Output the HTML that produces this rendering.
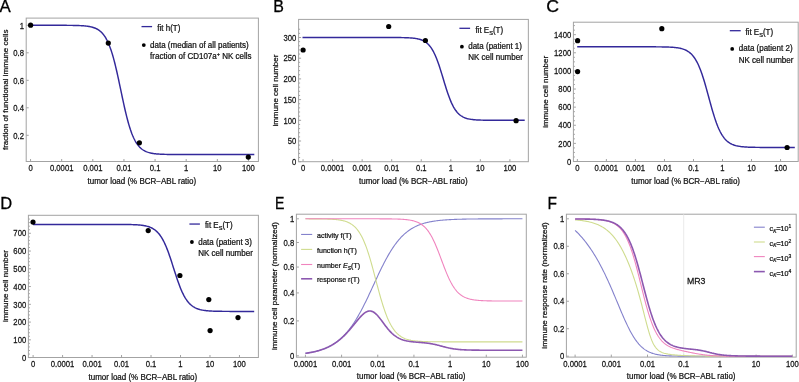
<!DOCTYPE html>
<html><head><meta charset="utf-8"><style>
html,body{margin:0;padding:0;background:#fff;}
svg{display:block;will-change:transform;font-family:"Liberation Sans",sans-serif;}
</style></head><body>
<svg width="799" height="382" viewBox="0 0 799 382">
<rect width="799" height="382" fill="#fff"/>
<rect x="26.2" y="18.1" width="232.2" height="143.4" fill="none" stroke="#a3a3a3" stroke-width="1"/>
<line x1="30.55" y1="161.5" x2="30.55" y2="159" stroke="#a3a3a3" stroke-width="1"/>
<text transform="translate(30.55,171.1) scale(0.8696,1)" font-size="8.85" text-anchor="middle" fill="#141414" stroke="#141414" stroke-width="0.25">0</text>
<line x1="61.68" y1="161.5" x2="61.68" y2="159" stroke="#a3a3a3" stroke-width="1"/>
<text transform="translate(61.68,171.1) scale(0.8696,1)" font-size="8.85" text-anchor="middle" fill="#141414" stroke="#141414" stroke-width="0.25">0.0001</text>
<line x1="92.81" y1="161.5" x2="92.81" y2="159" stroke="#a3a3a3" stroke-width="1"/>
<text transform="translate(92.81,171.1) scale(0.8696,1)" font-size="8.85" text-anchor="middle" fill="#141414" stroke="#141414" stroke-width="0.25">0.001</text>
<line x1="123.94" y1="161.5" x2="123.94" y2="159" stroke="#a3a3a3" stroke-width="1"/>
<text transform="translate(123.94,171.1) scale(0.8696,1)" font-size="8.85" text-anchor="middle" fill="#141414" stroke="#141414" stroke-width="0.25">0.01</text>
<line x1="155.07" y1="161.5" x2="155.07" y2="159" stroke="#a3a3a3" stroke-width="1"/>
<text transform="translate(155.07,171.1) scale(0.8696,1)" font-size="8.85" text-anchor="middle" fill="#141414" stroke="#141414" stroke-width="0.25">0.1</text>
<line x1="186.2" y1="161.5" x2="186.2" y2="159" stroke="#a3a3a3" stroke-width="1"/>
<text transform="translate(186.2,171.1) scale(0.8696,1)" font-size="8.85" text-anchor="middle" fill="#141414" stroke="#141414" stroke-width="0.25">1</text>
<line x1="217.33" y1="161.5" x2="217.33" y2="159" stroke="#a3a3a3" stroke-width="1"/>
<text transform="translate(217.33,171.1) scale(0.8696,1)" font-size="8.85" text-anchor="middle" fill="#141414" stroke="#141414" stroke-width="0.25">10</text>
<line x1="248.46" y1="161.5" x2="248.46" y2="159" stroke="#a3a3a3" stroke-width="1"/>
<text transform="translate(248.46,171.1) scale(0.8696,1)" font-size="8.85" text-anchor="middle" fill="#141414" stroke="#141414" stroke-width="0.25">100</text>
<line x1="26.2" y1="25.3" x2="28.7" y2="25.3" stroke="#a3a3a3" stroke-width="1"/>
<text transform="translate(24,28.5) scale(0.8696,1)" font-size="8.85" text-anchor="end" fill="#141414" stroke="#141414" stroke-width="0.25">1</text>
<line x1="26.2" y1="52.8" x2="28.7" y2="52.8" stroke="#a3a3a3" stroke-width="1"/>
<text transform="translate(24,56) scale(0.8696,1)" font-size="8.85" text-anchor="end" fill="#141414" stroke="#141414" stroke-width="0.25">0.8</text>
<line x1="26.2" y1="80.3" x2="28.7" y2="80.3" stroke="#a3a3a3" stroke-width="1"/>
<text transform="translate(24,83.5) scale(0.8696,1)" font-size="8.85" text-anchor="end" fill="#141414" stroke="#141414" stroke-width="0.25">0.6</text>
<line x1="26.2" y1="107.8" x2="28.7" y2="107.8" stroke="#a3a3a3" stroke-width="1"/>
<text transform="translate(24,111) scale(0.8696,1)" font-size="8.85" text-anchor="end" fill="#141414" stroke="#141414" stroke-width="0.25">0.4</text>
<line x1="26.2" y1="135.3" x2="28.7" y2="135.3" stroke="#a3a3a3" stroke-width="1"/>
<text transform="translate(24,138.5) scale(0.8696,1)" font-size="8.85" text-anchor="end" fill="#141414" stroke="#141414" stroke-width="0.25">0.2</text>
<text transform="translate(87.5,183.5) scale(0.9709,1)" font-size="8.24" text-anchor="start" fill="#141414" stroke="#141414" stroke-width="0.25">tumor load (% BCR−ABL ratio)</text>
<text transform="translate(8.2,89.8) rotate(-90)" font-size="8" text-anchor="middle" fill="#141414" stroke="#141414" stroke-width="0.25">fraction of functional immune cells</text>
<text transform="translate(-0.5,11.6) scale(0.98,1)" font-size="17.2" fill="#000" stroke="#000" stroke-width="0.3">A</text>
<path d="M30.55,25.3 L31.3,25.3 L32.04,25.3 L32.79,25.3 L33.53,25.3 L34.28,25.3 L35.02,25.3 L35.77,25.3 L36.52,25.3 L37.26,25.3 L38.01,25.3 L38.75,25.3 L39.5,25.3 L40.25,25.3 L40.99,25.3 L41.74,25.3 L42.48,25.3 L43.23,25.3 L43.97,25.3 L44.72,25.3 L45.47,25.3 L46.21,25.3 L46.96,25.3 L47.7,25.3 L48.45,25.3 L49.2,25.3 L49.94,25.3 L50.69,25.3 L51.43,25.3 L52.18,25.31 L52.93,25.31 L53.67,25.31 L54.42,25.31 L55.16,25.31 L55.91,25.31 L56.65,25.31 L57.4,25.31 L58.15,25.31 L58.89,25.31 L59.64,25.32 L60.38,25.32 L61.13,25.32 L61.87,25.32 L62.62,25.32 L63.37,25.33 L64.11,25.33 L64.86,25.33 L65.6,25.34 L66.35,25.34 L67.1,25.35 L67.84,25.35 L68.59,25.36 L69.33,25.36 L70.08,25.37 L70.83,25.38 L71.57,25.39 L72.32,25.4 L73.06,25.41 L73.81,25.42 L74.55,25.44 L75.3,25.46 L76.05,25.47 L76.79,25.49 L77.54,25.52 L78.28,25.54 L79.03,25.57 L79.77,25.6 L80.52,25.64 L81.27,25.67 L82.01,25.72 L82.76,25.77 L83.5,25.82 L84.25,25.88 L85,25.95 L85.74,26.02 L86.49,26.11 L87.23,26.2 L87.98,26.31 L88.72,26.42 L89.47,26.55 L90.22,26.7 L90.96,26.86 L91.71,27.04 L92.45,27.24 L93.2,27.46 L93.95,27.7 L94.69,27.98 L95.44,28.28 L96.18,28.62 L96.93,29 L97.67,29.42 L98.42,29.88 L99.17,30.39 L99.91,30.96 L100.66,31.59 L101.4,32.29 L102.15,33.05 L102.9,33.9 L103.64,34.82 L104.39,35.84 L105.13,36.96 L105.88,38.19 L106.62,39.53 L107.37,40.98 L108.12,42.57 L108.86,44.29 L109.61,46.15 L110.35,48.15 L111.1,50.3 L111.85,52.6 L112.59,55.05 L113.34,57.65 L114.08,60.4 L114.83,63.29 L115.58,66.32 L116.32,69.47 L117.07,72.73 L117.81,76.09 L118.56,79.52 L119.3,83.03 L120.05,86.57 L120.8,90.13 L121.54,93.69 L122.29,97.23 L123.03,100.72 L123.78,104.15 L124.52,107.5 L125.27,110.75 L126.02,113.89 L126.76,116.9 L127.51,119.77 L128.25,122.5 L129,125.09 L129.75,127.52 L130.49,129.81 L131.24,131.94 L131.98,133.92 L132.73,135.77 L133.47,137.47 L134.22,139.04 L134.97,140.48 L135.71,141.81 L136.46,143.02 L137.2,144.13 L137.95,145.14 L138.7,146.06 L139.44,146.89 L140.19,147.65 L140.93,148.33 L141.68,148.96 L142.42,149.52 L143.17,150.02 L143.92,150.48 L144.66,150.9 L145.41,151.27 L146.15,151.6 L146.9,151.9 L147.65,152.18 L148.39,152.42 L149.14,152.64 L149.88,152.84 L150.63,153.01 L151.38,153.17 L152.12,153.31 L152.87,153.44 L153.61,153.56 L154.36,153.66 L155.1,153.75 L155.85,153.84 L156.6,153.91 L157.34,153.98 L158.09,154.04 L158.83,154.09 L159.58,154.14 L160.32,154.18 L161.07,154.22 L161.82,154.25 L162.56,154.28 L163.31,154.31 L164.05,154.34 L164.8,154.36 L165.55,154.38 L166.29,154.4 L167.04,154.41 L167.78,154.43 L168.53,154.44 L169.28,154.45 L170.02,154.46 L170.77,154.47 L171.51,154.48 L172.26,154.49 L173,154.49 L173.75,154.5 L174.5,154.5 L175.24,154.51 L175.99,154.51 L176.73,154.52 L177.48,154.52 L178.23,154.52 L178.97,154.53 L179.72,154.53 L180.46,154.53 L181.21,154.53 L181.95,154.53 L182.7,154.54 L183.45,154.54 L184.19,154.54 L184.94,154.54 L185.68,154.54 L186.43,154.54 L187.18,154.54 L187.92,154.54 L188.67,154.54 L189.41,154.54 L190.16,154.55 L190.9,154.55 L191.65,154.55 L192.4,154.55 L193.14,154.55 L193.89,154.55 L194.63,154.55 L195.38,154.55 L196.12,154.55 L196.87,154.55 L197.62,154.55 L198.36,154.55 L199.11,154.55 L199.85,154.55 L200.6,154.55 L201.35,154.55 L202.09,154.55 L202.84,154.55 L203.58,154.55 L204.33,154.55 L205.08,154.55 L205.82,154.55 L206.57,154.55 L207.31,154.55 L208.06,154.55 L208.8,154.55 L209.55,154.55 L210.3,154.55 L211.04,154.55 L211.79,154.55 L212.53,154.55 L213.28,154.55 L214.03,154.55 L214.77,154.55 L215.52,154.55 L216.26,154.55 L217.01,154.55 L217.75,154.55 L218.5,154.55 L219.25,154.55 L219.99,154.55 L220.74,154.55 L221.48,154.55 L222.23,154.55 L222.97,154.55 L223.72,154.55 L224.47,154.55 L225.21,154.55 L225.96,154.55 L226.7,154.55 L227.45,154.55 L228.2,154.55 L228.94,154.55 L229.69,154.55 L230.43,154.55 L231.18,154.55 L231.93,154.55 L232.67,154.55 L233.42,154.55 L234.16,154.55 L234.91,154.55 L235.65,154.55 L236.4,154.55 L237.15,154.55 L237.89,154.55 L238.64,154.55 L239.38,154.55 L240.13,154.55 L240.88,154.55 L241.62,154.55 L242.37,154.55 L243.11,154.55 L243.86,154.55 L244.6,154.55 L245.35,154.55 L246.1,154.55 L246.84,154.55 L247.59,154.55 L248.33,154.55 L249.08,154.55 L249.83,154.55 L250.57,154.55 L251.32,154.55 L252.06,154.55 L252.81,154.55 L253.55,154.55 L254.3,154.55" fill="none" stroke="#33299a" stroke-width="1.45" stroke-linejoin="round" stroke-linecap="butt"/>
<circle cx="30.6" cy="25.2" r="2.6" fill="#000"/>
<circle cx="108.3" cy="43.1" r="2.6" fill="#000"/>
<circle cx="139.4" cy="142.8" r="2.6" fill="#000"/>
<circle cx="248.3" cy="157.1" r="2.6" fill="#000"/>
<line x1="141.5" y1="26.6" x2="152.1" y2="26.6" stroke="#33299a" stroke-width="1.3"/>
<text transform="translate(157.3,30.7) scale(0.9709,1)" font-size="8.24" text-anchor="start" fill="#141414" stroke="#141414" stroke-width="0.25">fit h(T)</text>
<circle cx="143.8" cy="45.1" r="1.9" fill="#000"/>
<text transform="translate(150.1,47.7) scale(0.9709,1)" font-size="8.24" text-anchor="start" fill="#141414" stroke="#141414" stroke-width="0.25">data (median of all patients)</text>
<text transform="translate(150.1,58.5) scale(0.9709,1)" font-size="8.24" text-anchor="start" fill="#141414" stroke="#141414" stroke-width="0.25">fraction of CD107a<tspan dy="-3" font-size="70%">+</tspan><tspan dy="3"> NK cells</tspan></text>
<rect x="298.6" y="19.4" width="229.75" height="142.3" fill="none" stroke="#a3a3a3" stroke-width="1"/>
<line x1="303.05" y1="161.7" x2="303.05" y2="159.2" stroke="#a3a3a3" stroke-width="1"/>
<text transform="translate(303.05,171.1) scale(0.8696,1)" font-size="8.85" text-anchor="middle" fill="#141414" stroke="#141414" stroke-width="0.25">0</text>
<line x1="332.6" y1="161.7" x2="332.6" y2="159.2" stroke="#a3a3a3" stroke-width="1"/>
<text transform="translate(332.6,171.1) scale(0.8696,1)" font-size="8.85" text-anchor="middle" fill="#141414" stroke="#141414" stroke-width="0.25">0.0001</text>
<line x1="362.15" y1="161.7" x2="362.15" y2="159.2" stroke="#a3a3a3" stroke-width="1"/>
<text transform="translate(362.15,171.1) scale(0.8696,1)" font-size="8.85" text-anchor="middle" fill="#141414" stroke="#141414" stroke-width="0.25">0.001</text>
<line x1="391.7" y1="161.7" x2="391.7" y2="159.2" stroke="#a3a3a3" stroke-width="1"/>
<text transform="translate(391.7,171.1) scale(0.8696,1)" font-size="8.85" text-anchor="middle" fill="#141414" stroke="#141414" stroke-width="0.25">0.01</text>
<line x1="421.25" y1="161.7" x2="421.25" y2="159.2" stroke="#a3a3a3" stroke-width="1"/>
<text transform="translate(421.25,171.1) scale(0.8696,1)" font-size="8.85" text-anchor="middle" fill="#141414" stroke="#141414" stroke-width="0.25">0.1</text>
<line x1="450.8" y1="161.7" x2="450.8" y2="159.2" stroke="#a3a3a3" stroke-width="1"/>
<text transform="translate(450.8,171.1) scale(0.8696,1)" font-size="8.85" text-anchor="middle" fill="#141414" stroke="#141414" stroke-width="0.25">1</text>
<line x1="480.35" y1="161.7" x2="480.35" y2="159.2" stroke="#a3a3a3" stroke-width="1"/>
<text transform="translate(480.35,171.1) scale(0.8696,1)" font-size="8.85" text-anchor="middle" fill="#141414" stroke="#141414" stroke-width="0.25">10</text>
<line x1="509.9" y1="161.7" x2="509.9" y2="159.2" stroke="#a3a3a3" stroke-width="1"/>
<text transform="translate(509.9,171.1) scale(0.8696,1)" font-size="8.85" text-anchor="middle" fill="#141414" stroke="#141414" stroke-width="0.25">100</text>
<line x1="298.6" y1="161.7" x2="301.1" y2="161.7" stroke="#a3a3a3" stroke-width="1"/>
<text transform="translate(296.4,164.9) scale(0.8696,1)" font-size="8.85" text-anchor="end" fill="#141414" stroke="#141414" stroke-width="0.25">0</text>
<line x1="298.6" y1="141" x2="301.1" y2="141" stroke="#a3a3a3" stroke-width="1"/>
<text transform="translate(296.4,144.2) scale(0.8696,1)" font-size="8.85" text-anchor="end" fill="#141414" stroke="#141414" stroke-width="0.25">50</text>
<line x1="298.6" y1="120.3" x2="301.1" y2="120.3" stroke="#a3a3a3" stroke-width="1"/>
<text transform="translate(296.4,123.5) scale(0.8696,1)" font-size="8.85" text-anchor="end" fill="#141414" stroke="#141414" stroke-width="0.25">100</text>
<line x1="298.6" y1="99.6" x2="301.1" y2="99.6" stroke="#a3a3a3" stroke-width="1"/>
<text transform="translate(296.4,102.8) scale(0.8696,1)" font-size="8.85" text-anchor="end" fill="#141414" stroke="#141414" stroke-width="0.25">150</text>
<line x1="298.6" y1="78.9" x2="301.1" y2="78.9" stroke="#a3a3a3" stroke-width="1"/>
<text transform="translate(296.4,82.1) scale(0.8696,1)" font-size="8.85" text-anchor="end" fill="#141414" stroke="#141414" stroke-width="0.25">200</text>
<line x1="298.6" y1="58.2" x2="301.1" y2="58.2" stroke="#a3a3a3" stroke-width="1"/>
<text transform="translate(296.4,61.4) scale(0.8696,1)" font-size="8.85" text-anchor="end" fill="#141414" stroke="#141414" stroke-width="0.25">250</text>
<line x1="298.6" y1="37.5" x2="301.1" y2="37.5" stroke="#a3a3a3" stroke-width="1"/>
<text transform="translate(296.4,40.7) scale(0.8696,1)" font-size="8.85" text-anchor="end" fill="#141414" stroke="#141414" stroke-width="0.25">300</text>
<line x1="298.6" y1="157.56" x2="300.1" y2="157.56" stroke="#a3a3a3" stroke-width="1"/>
<line x1="298.6" y1="153.42" x2="300.1" y2="153.42" stroke="#a3a3a3" stroke-width="1"/>
<line x1="298.6" y1="149.28" x2="300.1" y2="149.28" stroke="#a3a3a3" stroke-width="1"/>
<line x1="298.6" y1="145.14" x2="300.1" y2="145.14" stroke="#a3a3a3" stroke-width="1"/>
<line x1="298.6" y1="136.86" x2="300.1" y2="136.86" stroke="#a3a3a3" stroke-width="1"/>
<line x1="298.6" y1="132.72" x2="300.1" y2="132.72" stroke="#a3a3a3" stroke-width="1"/>
<line x1="298.6" y1="128.58" x2="300.1" y2="128.58" stroke="#a3a3a3" stroke-width="1"/>
<line x1="298.6" y1="124.44" x2="300.1" y2="124.44" stroke="#a3a3a3" stroke-width="1"/>
<line x1="298.6" y1="116.16" x2="300.1" y2="116.16" stroke="#a3a3a3" stroke-width="1"/>
<line x1="298.6" y1="112.02" x2="300.1" y2="112.02" stroke="#a3a3a3" stroke-width="1"/>
<line x1="298.6" y1="107.88" x2="300.1" y2="107.88" stroke="#a3a3a3" stroke-width="1"/>
<line x1="298.6" y1="103.74" x2="300.1" y2="103.74" stroke="#a3a3a3" stroke-width="1"/>
<line x1="298.6" y1="95.46" x2="300.1" y2="95.46" stroke="#a3a3a3" stroke-width="1"/>
<line x1="298.6" y1="91.32" x2="300.1" y2="91.32" stroke="#a3a3a3" stroke-width="1"/>
<line x1="298.6" y1="87.18" x2="300.1" y2="87.18" stroke="#a3a3a3" stroke-width="1"/>
<line x1="298.6" y1="83.04" x2="300.1" y2="83.04" stroke="#a3a3a3" stroke-width="1"/>
<line x1="298.6" y1="74.76" x2="300.1" y2="74.76" stroke="#a3a3a3" stroke-width="1"/>
<line x1="298.6" y1="70.62" x2="300.1" y2="70.62" stroke="#a3a3a3" stroke-width="1"/>
<line x1="298.6" y1="66.48" x2="300.1" y2="66.48" stroke="#a3a3a3" stroke-width="1"/>
<line x1="298.6" y1="62.34" x2="300.1" y2="62.34" stroke="#a3a3a3" stroke-width="1"/>
<line x1="298.6" y1="54.06" x2="300.1" y2="54.06" stroke="#a3a3a3" stroke-width="1"/>
<line x1="298.6" y1="49.92" x2="300.1" y2="49.92" stroke="#a3a3a3" stroke-width="1"/>
<line x1="298.6" y1="45.78" x2="300.1" y2="45.78" stroke="#a3a3a3" stroke-width="1"/>
<line x1="298.6" y1="41.64" x2="300.1" y2="41.64" stroke="#a3a3a3" stroke-width="1"/>
<line x1="298.6" y1="33.36" x2="300.1" y2="33.36" stroke="#a3a3a3" stroke-width="1"/>
<line x1="298.6" y1="29.22" x2="300.1" y2="29.22" stroke="#a3a3a3" stroke-width="1"/>
<text transform="translate(359,183.5) scale(0.9709,1)" font-size="8.24" text-anchor="start" fill="#141414" stroke="#141414" stroke-width="0.25">tumor load (% BCR−ABL ratio)</text>
<text transform="translate(277.5,90.6) rotate(-90)" font-size="8" text-anchor="middle" fill="#141414" stroke="#141414" stroke-width="0.25">immune cell number</text>
<text transform="translate(273.2,11.7) scale(0.93,1)" font-size="17.2" fill="#000" stroke="#000" stroke-width="0.3">B</text>
<path d="M302.5,37.5 L303.24,37.5 L303.98,37.5 L304.72,37.5 L305.46,37.5 L306.2,37.5 L306.94,37.5 L307.68,37.5 L308.43,37.5 L309.17,37.5 L309.91,37.5 L310.65,37.5 L311.39,37.5 L312.13,37.5 L312.87,37.5 L313.61,37.5 L314.35,37.5 L315.09,37.5 L315.83,37.5 L316.57,37.5 L317.31,37.5 L318.05,37.5 L318.79,37.5 L319.54,37.5 L320.28,37.5 L321.02,37.5 L321.76,37.5 L322.5,37.5 L323.24,37.5 L323.98,37.5 L324.72,37.5 L325.46,37.5 L326.2,37.5 L326.94,37.5 L327.68,37.5 L328.42,37.5 L329.16,37.5 L329.9,37.5 L330.65,37.5 L331.39,37.5 L332.13,37.5 L332.87,37.5 L333.61,37.5 L334.35,37.5 L335.09,37.5 L335.83,37.5 L336.57,37.5 L337.31,37.5 L338.05,37.5 L338.79,37.5 L339.53,37.5 L340.27,37.5 L341.01,37.5 L341.76,37.5 L342.5,37.5 L343.24,37.5 L343.98,37.5 L344.72,37.5 L345.46,37.5 L346.2,37.5 L346.94,37.5 L347.68,37.5 L348.42,37.5 L349.16,37.5 L349.9,37.5 L350.64,37.5 L351.38,37.5 L352.12,37.5 L352.87,37.5 L353.61,37.5 L354.35,37.5 L355.09,37.5 L355.83,37.5 L356.57,37.5 L357.31,37.5 L358.05,37.5 L358.79,37.5 L359.53,37.5 L360.27,37.5 L361.01,37.5 L361.75,37.5 L362.49,37.5 L363.23,37.5 L363.98,37.5 L364.72,37.5 L365.46,37.5 L366.2,37.5 L366.94,37.5 L367.68,37.5 L368.42,37.5 L369.16,37.5 L369.9,37.5 L370.64,37.5 L371.38,37.5 L372.12,37.5 L372.86,37.5 L373.6,37.5 L374.34,37.5 L375.09,37.5 L375.83,37.5 L376.57,37.5 L377.31,37.5 L378.05,37.5 L378.79,37.5 L379.53,37.5 L380.27,37.5 L381.01,37.5 L381.75,37.5 L382.49,37.5 L383.23,37.51 L383.97,37.51 L384.71,37.51 L385.45,37.51 L386.2,37.51 L386.94,37.51 L387.68,37.51 L388.42,37.51 L389.16,37.51 L389.9,37.52 L390.64,37.52 L391.38,37.52 L392.12,37.52 L392.86,37.53 L393.6,37.53 L394.34,37.53 L395.08,37.54 L395.82,37.54 L396.56,37.55 L397.31,37.55 L398.05,37.56 L398.79,37.57 L399.53,37.57 L400.27,37.58 L401.01,37.59 L401.75,37.61 L402.49,37.62 L403.23,37.63 L403.97,37.65 L404.71,37.67 L405.45,37.69 L406.19,37.71 L406.93,37.74 L407.67,37.77 L408.42,37.81 L409.16,37.85 L409.9,37.89 L410.64,37.94 L411.38,37.99 L412.12,38.05 L412.86,38.12 L413.6,38.2 L414.34,38.29 L415.08,38.39 L415.82,38.5 L416.56,38.62 L417.3,38.76 L418.04,38.92 L418.78,39.1 L419.53,39.29 L420.27,39.51 L421.01,39.76 L421.75,40.04 L422.49,40.35 L423.23,40.69 L423.97,41.08 L424.71,41.51 L425.45,41.99 L426.19,42.52 L426.93,43.11 L427.67,43.76 L428.41,44.49 L429.15,45.29 L429.89,46.17 L430.64,47.13 L431.38,48.19 L432.12,49.35 L432.86,50.61 L433.6,51.97 L434.34,53.45 L435.08,55.03 L435.82,56.73 L436.56,58.55 L437.3,60.47 L438.04,62.49 L438.78,64.61 L439.52,66.82 L440.26,69.11 L441,71.46 L441.75,73.87 L442.49,76.31 L443.23,78.77 L443.97,81.22 L444.71,83.67 L445.45,86.08 L446.19,88.44 L446.93,90.73 L447.67,92.95 L448.41,95.08 L449.15,97.12 L449.89,99.05 L450.63,100.87 L451.37,102.59 L452.11,104.18 L452.86,105.67 L453.6,107.05 L454.34,108.32 L455.08,109.49 L455.82,110.56 L456.56,111.53 L457.3,112.42 L458.04,113.23 L458.78,113.96 L459.52,114.62 L460.26,115.22 L461,115.76 L461.74,116.24 L462.48,116.68 L463.22,117.07 L463.97,117.42 L464.71,117.73 L465.45,118.01 L466.19,118.26 L466.93,118.48 L467.67,118.68 L468.41,118.86 L469.15,119.02 L469.89,119.16 L470.63,119.29 L471.37,119.4 L472.11,119.5 L472.85,119.59 L473.59,119.67 L474.33,119.74 L475.08,119.8 L475.82,119.86 L476.56,119.91 L477.3,119.95 L478.04,119.99 L478.78,120.02 L479.52,120.05 L480.26,120.08 L481,120.11 L481.74,120.13 L482.48,120.15 L483.22,120.16 L483.96,120.18 L484.7,120.19 L485.44,120.21 L486.19,120.22 L486.93,120.23 L487.67,120.23 L488.41,120.24 L489.15,120.25 L489.89,120.25 L490.63,120.26 L491.37,120.26 L492.11,120.27 L492.85,120.27 L493.59,120.27 L494.33,120.28 L495.07,120.28 L495.81,120.28 L496.55,120.28 L497.3,120.29 L498.04,120.29 L498.78,120.29 L499.52,120.29 L500.26,120.29 L501,120.29 L501.74,120.29 L502.48,120.29 L503.22,120.29 L503.96,120.3 L504.7,120.3 L505.44,120.3 L506.18,120.3 L506.92,120.3 L507.66,120.3 L508.41,120.3 L509.15,120.3 L509.89,120.3 L510.63,120.3 L511.37,120.3 L512.11,120.3 L512.85,120.3 L513.59,120.3 L514.33,120.3 L515.07,120.3 L515.81,120.3 L516.55,120.3 L517.29,120.3 L518.03,120.3 L518.77,120.3 L519.52,120.3 L520.26,120.3 L521,120.3 L521.74,120.3 L522.48,120.3 L523.22,120.3 L523.96,120.3 L524.7,120.3" fill="none" stroke="#33299a" stroke-width="1.45" stroke-linejoin="round" stroke-linecap="butt"/>
<circle cx="303.1" cy="50" r="2.6" fill="#000"/>
<circle cx="388.7" cy="26.5" r="2.6" fill="#000"/>
<circle cx="425.4" cy="40.5" r="2.6" fill="#000"/>
<circle cx="516.1" cy="120.7" r="2.6" fill="#000"/>
<line x1="459.4" y1="28.3" x2="470.1" y2="28.3" stroke="#33299a" stroke-width="1.3"/>
<text transform="translate(475.4,32.5) scale(0.9709,1)" font-size="8.24" text-anchor="start" fill="#141414" stroke="#141414" stroke-width="0.25">fit E<tspan dy="2.2" font-size="70%">S</tspan><tspan dy="-2.2">(T)</tspan></text>
<circle cx="461.9" cy="46.7" r="1.9" fill="#000"/>
<text transform="translate(468.2,48.8) scale(0.9709,1)" font-size="8.24" text-anchor="start" fill="#141414" stroke="#141414" stroke-width="0.25">data (patient 1)</text>
<text transform="translate(468.2,60.1) scale(0.9709,1)" font-size="8.24" text-anchor="start" fill="#141414" stroke="#141414" stroke-width="0.25">NK cell number</text>
<rect x="573.4" y="22.2" width="224.8" height="139.3" fill="none" stroke="#a3a3a3" stroke-width="1"/>
<line x1="577.35" y1="161.5" x2="577.35" y2="159" stroke="#a3a3a3" stroke-width="1"/>
<text transform="translate(577.35,171.1) scale(0.8696,1)" font-size="8.85" text-anchor="middle" fill="#141414" stroke="#141414" stroke-width="0.25">0</text>
<line x1="606.38" y1="161.5" x2="606.38" y2="159" stroke="#a3a3a3" stroke-width="1"/>
<text transform="translate(606.38,171.1) scale(0.8696,1)" font-size="8.85" text-anchor="middle" fill="#141414" stroke="#141414" stroke-width="0.25">0.0001</text>
<line x1="635.41" y1="161.5" x2="635.41" y2="159" stroke="#a3a3a3" stroke-width="1"/>
<text transform="translate(635.41,171.1) scale(0.8696,1)" font-size="8.85" text-anchor="middle" fill="#141414" stroke="#141414" stroke-width="0.25">0.001</text>
<line x1="664.44" y1="161.5" x2="664.44" y2="159" stroke="#a3a3a3" stroke-width="1"/>
<text transform="translate(664.44,171.1) scale(0.8696,1)" font-size="8.85" text-anchor="middle" fill="#141414" stroke="#141414" stroke-width="0.25">0.01</text>
<line x1="693.47" y1="161.5" x2="693.47" y2="159" stroke="#a3a3a3" stroke-width="1"/>
<text transform="translate(693.47,171.1) scale(0.8696,1)" font-size="8.85" text-anchor="middle" fill="#141414" stroke="#141414" stroke-width="0.25">0.1</text>
<line x1="722.5" y1="161.5" x2="722.5" y2="159" stroke="#a3a3a3" stroke-width="1"/>
<text transform="translate(722.5,171.1) scale(0.8696,1)" font-size="8.85" text-anchor="middle" fill="#141414" stroke="#141414" stroke-width="0.25">1</text>
<line x1="751.53" y1="161.5" x2="751.53" y2="159" stroke="#a3a3a3" stroke-width="1"/>
<text transform="translate(751.53,171.1) scale(0.8696,1)" font-size="8.85" text-anchor="middle" fill="#141414" stroke="#141414" stroke-width="0.25">10</text>
<line x1="780.56" y1="161.5" x2="780.56" y2="159" stroke="#a3a3a3" stroke-width="1"/>
<text transform="translate(780.56,171.1) scale(0.8696,1)" font-size="8.85" text-anchor="middle" fill="#141414" stroke="#141414" stroke-width="0.25">100</text>
<line x1="573.4" y1="161.5" x2="575.9" y2="161.5" stroke="#a3a3a3" stroke-width="1"/>
<text transform="translate(571.2,164.7) scale(0.8696,1)" font-size="8.85" text-anchor="end" fill="#141414" stroke="#141414" stroke-width="0.25">0</text>
<line x1="573.4" y1="143.38" x2="575.9" y2="143.38" stroke="#a3a3a3" stroke-width="1"/>
<text transform="translate(571.2,146.58) scale(0.8696,1)" font-size="8.85" text-anchor="end" fill="#141414" stroke="#141414" stroke-width="0.25">200</text>
<line x1="573.4" y1="125.26" x2="575.9" y2="125.26" stroke="#a3a3a3" stroke-width="1"/>
<text transform="translate(571.2,128.46) scale(0.8696,1)" font-size="8.85" text-anchor="end" fill="#141414" stroke="#141414" stroke-width="0.25">400</text>
<line x1="573.4" y1="107.14" x2="575.9" y2="107.14" stroke="#a3a3a3" stroke-width="1"/>
<text transform="translate(571.2,110.34) scale(0.8696,1)" font-size="8.85" text-anchor="end" fill="#141414" stroke="#141414" stroke-width="0.25">600</text>
<line x1="573.4" y1="89.02" x2="575.9" y2="89.02" stroke="#a3a3a3" stroke-width="1"/>
<text transform="translate(571.2,92.22) scale(0.8696,1)" font-size="8.85" text-anchor="end" fill="#141414" stroke="#141414" stroke-width="0.25">800</text>
<line x1="573.4" y1="70.9" x2="575.9" y2="70.9" stroke="#a3a3a3" stroke-width="1"/>
<text transform="translate(571.2,74.1) scale(0.8696,1)" font-size="8.85" text-anchor="end" fill="#141414" stroke="#141414" stroke-width="0.25">1000</text>
<line x1="573.4" y1="52.78" x2="575.9" y2="52.78" stroke="#a3a3a3" stroke-width="1"/>
<text transform="translate(571.2,55.98) scale(0.8696,1)" font-size="8.85" text-anchor="end" fill="#141414" stroke="#141414" stroke-width="0.25">1200</text>
<line x1="573.4" y1="34.66" x2="575.9" y2="34.66" stroke="#a3a3a3" stroke-width="1"/>
<text transform="translate(571.2,37.86) scale(0.8696,1)" font-size="8.85" text-anchor="end" fill="#141414" stroke="#141414" stroke-width="0.25">1400</text>
<line x1="573.4" y1="156.97" x2="574.9" y2="156.97" stroke="#a3a3a3" stroke-width="1"/>
<line x1="573.4" y1="152.44" x2="574.9" y2="152.44" stroke="#a3a3a3" stroke-width="1"/>
<line x1="573.4" y1="147.91" x2="574.9" y2="147.91" stroke="#a3a3a3" stroke-width="1"/>
<line x1="573.4" y1="138.85" x2="574.9" y2="138.85" stroke="#a3a3a3" stroke-width="1"/>
<line x1="573.4" y1="134.32" x2="574.9" y2="134.32" stroke="#a3a3a3" stroke-width="1"/>
<line x1="573.4" y1="129.79" x2="574.9" y2="129.79" stroke="#a3a3a3" stroke-width="1"/>
<line x1="573.4" y1="120.73" x2="574.9" y2="120.73" stroke="#a3a3a3" stroke-width="1"/>
<line x1="573.4" y1="116.2" x2="574.9" y2="116.2" stroke="#a3a3a3" stroke-width="1"/>
<line x1="573.4" y1="111.67" x2="574.9" y2="111.67" stroke="#a3a3a3" stroke-width="1"/>
<line x1="573.4" y1="102.61" x2="574.9" y2="102.61" stroke="#a3a3a3" stroke-width="1"/>
<line x1="573.4" y1="98.08" x2="574.9" y2="98.08" stroke="#a3a3a3" stroke-width="1"/>
<line x1="573.4" y1="93.55" x2="574.9" y2="93.55" stroke="#a3a3a3" stroke-width="1"/>
<line x1="573.4" y1="84.49" x2="574.9" y2="84.49" stroke="#a3a3a3" stroke-width="1"/>
<line x1="573.4" y1="79.96" x2="574.9" y2="79.96" stroke="#a3a3a3" stroke-width="1"/>
<line x1="573.4" y1="75.43" x2="574.9" y2="75.43" stroke="#a3a3a3" stroke-width="1"/>
<line x1="573.4" y1="66.37" x2="574.9" y2="66.37" stroke="#a3a3a3" stroke-width="1"/>
<line x1="573.4" y1="61.84" x2="574.9" y2="61.84" stroke="#a3a3a3" stroke-width="1"/>
<line x1="573.4" y1="57.31" x2="574.9" y2="57.31" stroke="#a3a3a3" stroke-width="1"/>
<line x1="573.4" y1="48.25" x2="574.9" y2="48.25" stroke="#a3a3a3" stroke-width="1"/>
<line x1="573.4" y1="43.72" x2="574.9" y2="43.72" stroke="#a3a3a3" stroke-width="1"/>
<line x1="573.4" y1="39.19" x2="574.9" y2="39.19" stroke="#a3a3a3" stroke-width="1"/>
<line x1="573.4" y1="30.13" x2="574.9" y2="30.13" stroke="#a3a3a3" stroke-width="1"/>
<line x1="573.4" y1="25.6" x2="574.9" y2="25.6" stroke="#a3a3a3" stroke-width="1"/>
<text transform="translate(631.3,183.5) scale(0.9709,1)" font-size="8.24" text-anchor="start" fill="#141414" stroke="#141414" stroke-width="0.25">tumor load (% BCR−ABL ratio)</text>
<text transform="translate(547.7,91.85) rotate(-90)" font-size="8" text-anchor="middle" fill="#141414" stroke="#141414" stroke-width="0.25">immune cell number</text>
<text transform="translate(546.2,12) scale(1.03,1)" font-size="17.2" fill="#000" stroke="#000" stroke-width="0.3">C</text>
<path d="M577.2,46.8 L577.93,46.8 L578.65,46.8 L579.38,46.8 L580.1,46.8 L580.83,46.8 L581.55,46.8 L582.28,46.8 L583,46.8 L583.73,46.8 L584.45,46.8 L585.18,46.8 L585.9,46.8 L586.63,46.8 L587.35,46.8 L588.08,46.8 L588.81,46.8 L589.53,46.8 L590.26,46.8 L590.98,46.8 L591.71,46.8 L592.43,46.8 L593.16,46.8 L593.88,46.8 L594.61,46.8 L595.33,46.8 L596.06,46.8 L596.78,46.8 L597.51,46.8 L598.23,46.8 L598.96,46.8 L599.69,46.8 L600.41,46.8 L601.14,46.8 L601.86,46.8 L602.59,46.8 L603.31,46.8 L604.04,46.8 L604.76,46.8 L605.49,46.8 L606.21,46.8 L606.94,46.8 L607.66,46.8 L608.39,46.8 L609.11,46.8 L609.84,46.8 L610.57,46.8 L611.29,46.8 L612.02,46.8 L612.74,46.8 L613.47,46.8 L614.19,46.8 L614.92,46.8 L615.64,46.8 L616.37,46.8 L617.09,46.8 L617.82,46.8 L618.54,46.8 L619.27,46.8 L619.99,46.8 L620.72,46.8 L621.45,46.8 L622.17,46.8 L622.9,46.8 L623.62,46.8 L624.35,46.8 L625.07,46.8 L625.8,46.8 L626.52,46.8 L627.25,46.8 L627.97,46.8 L628.7,46.8 L629.42,46.8 L630.15,46.8 L630.87,46.8 L631.6,46.8 L632.33,46.8 L633.05,46.8 L633.78,46.8 L634.5,46.8 L635.23,46.8 L635.95,46.8 L636.68,46.8 L637.4,46.8 L638.13,46.8 L638.85,46.8 L639.58,46.8 L640.3,46.8 L641.03,46.81 L641.75,46.81 L642.48,46.81 L643.21,46.81 L643.93,46.81 L644.66,46.81 L645.38,46.81 L646.11,46.81 L646.83,46.81 L647.56,46.81 L648.28,46.81 L649.01,46.82 L649.73,46.82 L650.46,46.82 L651.18,46.82 L651.91,46.82 L652.63,46.83 L653.36,46.83 L654.09,46.83 L654.81,46.84 L655.54,46.84 L656.26,46.85 L656.99,46.85 L657.71,46.86 L658.44,46.86 L659.16,46.87 L659.89,46.88 L660.61,46.89 L661.34,46.9 L662.06,46.91 L662.79,46.92 L663.51,46.93 L664.24,46.95 L664.97,46.96 L665.69,46.98 L666.42,47 L667.14,47.03 L667.87,47.05 L668.59,47.08 L669.32,47.11 L670.04,47.14 L670.77,47.18 L671.49,47.23 L672.22,47.27 L672.94,47.33 L673.67,47.39 L674.39,47.45 L675.12,47.52 L675.85,47.6 L676.57,47.69 L677.3,47.79 L678.02,47.9 L678.75,48.02 L679.47,48.16 L680.2,48.31 L680.92,48.48 L681.65,48.66 L682.37,48.87 L683.1,49.09 L683.82,49.35 L684.55,49.62 L685.27,49.93 L686,50.27 L686.73,50.64 L687.45,51.06 L688.18,51.51 L688.9,52.02 L689.63,52.57 L690.35,53.17 L691.08,53.84 L691.8,54.57 L692.53,55.37 L693.25,56.24 L693.98,57.19 L694.7,58.22 L695.43,59.35 L696.15,60.56 L696.88,61.88 L697.61,63.29 L698.33,64.81 L699.06,66.44 L699.78,68.18 L700.51,70.03 L701.23,71.98 L701.96,74.05 L702.68,76.21 L703.41,78.48 L704.13,80.83 L704.86,83.27 L705.58,85.78 L706.31,88.35 L707.03,90.97 L707.76,93.62 L708.49,96.29 L709.21,98.97 L709.94,101.64 L710.66,104.28 L711.39,106.88 L712.11,109.43 L712.84,111.91 L713.56,114.32 L714.29,116.64 L715.01,118.87 L715.74,121 L716.46,123.02 L717.19,124.93 L717.91,126.74 L718.64,128.44 L719.37,130.02 L720.09,131.51 L720.82,132.88 L721.54,134.16 L722.27,135.34 L722.99,136.43 L723.72,137.43 L724.44,138.35 L725.17,139.2 L725.89,139.97 L726.62,140.67 L727.34,141.32 L728.07,141.9 L728.79,142.44 L729.52,142.92 L730.25,143.36 L730.97,143.76 L731.7,144.12 L732.42,144.45 L733.15,144.74 L733.87,145.01 L734.6,145.25 L735.32,145.47 L736.05,145.67 L736.77,145.84 L737.5,146 L738.22,146.15 L738.95,146.28 L739.67,146.4 L740.4,146.5 L741.13,146.6 L741.85,146.68 L742.58,146.76 L743.3,146.83 L744.03,146.89 L744.75,146.95 L745.48,147 L746.2,147.05 L746.93,147.09 L747.65,147.13 L748.38,147.16 L749.1,147.19 L749.83,147.22 L750.55,147.24 L751.28,147.26 L752.01,147.28 L752.73,147.3 L753.46,147.32 L754.18,147.33 L754.91,147.34 L755.63,147.35 L756.36,147.36 L757.08,147.37 L757.81,147.38 L758.53,147.39 L759.26,147.4 L759.98,147.4 L760.71,147.41 L761.43,147.41 L762.16,147.42 L762.89,147.42 L763.61,147.43 L764.34,147.43 L765.06,147.43 L765.79,147.43 L766.51,147.44 L767.24,147.44 L767.96,147.44 L768.69,147.44 L769.41,147.44 L770.14,147.44 L770.86,147.45 L771.59,147.45 L772.31,147.45 L773.04,147.45 L773.77,147.45 L774.49,147.45 L775.22,147.45 L775.94,147.45 L776.67,147.45 L777.39,147.45 L778.12,147.45 L778.84,147.45 L779.57,147.45 L780.29,147.45 L781.02,147.45 L781.74,147.45 L782.47,147.45 L783.19,147.46 L783.92,147.46 L784.65,147.46 L785.37,147.46 L786.1,147.46 L786.82,147.46 L787.55,147.46 L788.27,147.46 L789,147.46 L789.72,147.46 L790.45,147.46 L791.17,147.46 L791.9,147.46 L792.62,147.46 L793.35,147.46 L794.07,147.46 L794.8,147.46" fill="none" stroke="#33299a" stroke-width="1.45" stroke-linejoin="round" stroke-linecap="butt"/>
<circle cx="577.6" cy="40.7" r="2.6" fill="#000"/>
<circle cx="577.6" cy="71.6" r="2.6" fill="#000"/>
<circle cx="661.8" cy="28.7" r="2.6" fill="#000"/>
<circle cx="787.1" cy="147.5" r="2.6" fill="#000"/>
<line x1="729.8" y1="30.7" x2="740.7" y2="30.7" stroke="#33299a" stroke-width="1.3"/>
<text transform="translate(745.4,34.8) scale(0.9709,1)" font-size="8.24" text-anchor="start" fill="#141414" stroke="#141414" stroke-width="0.25">fit E<tspan dy="2.2" font-size="70%">S</tspan><tspan dy="-2.2">(T)</tspan></text>
<circle cx="732.2" cy="48.9" r="1.9" fill="#000"/>
<text transform="translate(738.8,51.2) scale(0.9709,1)" font-size="8.24" text-anchor="start" fill="#141414" stroke="#141414" stroke-width="0.25">data (patient 2)</text>
<text transform="translate(738.8,62.5) scale(0.9709,1)" font-size="8.24" text-anchor="start" fill="#141414" stroke="#141414" stroke-width="0.25">NK cell number</text>
<rect x="28.4" y="215.3" width="230" height="142.2" fill="none" stroke="#a3a3a3" stroke-width="1"/>
<line x1="33.1" y1="357.5" x2="33.1" y2="355" stroke="#a3a3a3" stroke-width="1"/>
<text transform="translate(33.1,366.8) scale(0.8696,1)" font-size="8.85" text-anchor="middle" fill="#141414" stroke="#141414" stroke-width="0.25">0</text>
<line x1="62.58" y1="357.5" x2="62.58" y2="355" stroke="#a3a3a3" stroke-width="1"/>
<text transform="translate(62.58,366.8) scale(0.8696,1)" font-size="8.85" text-anchor="middle" fill="#141414" stroke="#141414" stroke-width="0.25">0.0001</text>
<line x1="92.06" y1="357.5" x2="92.06" y2="355" stroke="#a3a3a3" stroke-width="1"/>
<text transform="translate(92.06,366.8) scale(0.8696,1)" font-size="8.85" text-anchor="middle" fill="#141414" stroke="#141414" stroke-width="0.25">0.001</text>
<line x1="121.54" y1="357.5" x2="121.54" y2="355" stroke="#a3a3a3" stroke-width="1"/>
<text transform="translate(121.54,366.8) scale(0.8696,1)" font-size="8.85" text-anchor="middle" fill="#141414" stroke="#141414" stroke-width="0.25">0.01</text>
<line x1="151.02" y1="357.5" x2="151.02" y2="355" stroke="#a3a3a3" stroke-width="1"/>
<text transform="translate(151.02,366.8) scale(0.8696,1)" font-size="8.85" text-anchor="middle" fill="#141414" stroke="#141414" stroke-width="0.25">0.1</text>
<line x1="180.5" y1="357.5" x2="180.5" y2="355" stroke="#a3a3a3" stroke-width="1"/>
<text transform="translate(180.5,366.8) scale(0.8696,1)" font-size="8.85" text-anchor="middle" fill="#141414" stroke="#141414" stroke-width="0.25">1</text>
<line x1="209.98" y1="357.5" x2="209.98" y2="355" stroke="#a3a3a3" stroke-width="1"/>
<text transform="translate(209.98,366.8) scale(0.8696,1)" font-size="8.85" text-anchor="middle" fill="#141414" stroke="#141414" stroke-width="0.25">10</text>
<line x1="239.46" y1="357.5" x2="239.46" y2="355" stroke="#a3a3a3" stroke-width="1"/>
<text transform="translate(239.46,366.8) scale(0.8696,1)" font-size="8.85" text-anchor="middle" fill="#141414" stroke="#141414" stroke-width="0.25">100</text>
<line x1="28.4" y1="357.6" x2="30.9" y2="357.6" stroke="#a3a3a3" stroke-width="1"/>
<text transform="translate(26.2,360.8) scale(0.8696,1)" font-size="8.85" text-anchor="end" fill="#141414" stroke="#141414" stroke-width="0.25">0</text>
<line x1="28.4" y1="339.84" x2="30.9" y2="339.84" stroke="#a3a3a3" stroke-width="1"/>
<text transform="translate(26.2,343.04) scale(0.8696,1)" font-size="8.85" text-anchor="end" fill="#141414" stroke="#141414" stroke-width="0.25">100</text>
<line x1="28.4" y1="322.08" x2="30.9" y2="322.08" stroke="#a3a3a3" stroke-width="1"/>
<text transform="translate(26.2,325.28) scale(0.8696,1)" font-size="8.85" text-anchor="end" fill="#141414" stroke="#141414" stroke-width="0.25">200</text>
<line x1="28.4" y1="304.32" x2="30.9" y2="304.32" stroke="#a3a3a3" stroke-width="1"/>
<text transform="translate(26.2,307.52) scale(0.8696,1)" font-size="8.85" text-anchor="end" fill="#141414" stroke="#141414" stroke-width="0.25">300</text>
<line x1="28.4" y1="286.56" x2="30.9" y2="286.56" stroke="#a3a3a3" stroke-width="1"/>
<text transform="translate(26.2,289.76) scale(0.8696,1)" font-size="8.85" text-anchor="end" fill="#141414" stroke="#141414" stroke-width="0.25">400</text>
<line x1="28.4" y1="268.8" x2="30.9" y2="268.8" stroke="#a3a3a3" stroke-width="1"/>
<text transform="translate(26.2,272) scale(0.8696,1)" font-size="8.85" text-anchor="end" fill="#141414" stroke="#141414" stroke-width="0.25">500</text>
<line x1="28.4" y1="251.04" x2="30.9" y2="251.04" stroke="#a3a3a3" stroke-width="1"/>
<text transform="translate(26.2,254.24) scale(0.8696,1)" font-size="8.85" text-anchor="end" fill="#141414" stroke="#141414" stroke-width="0.25">600</text>
<line x1="28.4" y1="233.28" x2="30.9" y2="233.28" stroke="#a3a3a3" stroke-width="1"/>
<text transform="translate(26.2,236.48) scale(0.8696,1)" font-size="8.85" text-anchor="end" fill="#141414" stroke="#141414" stroke-width="0.25">700</text>
<line x1="28.4" y1="354.05" x2="29.9" y2="354.05" stroke="#a3a3a3" stroke-width="1"/>
<line x1="28.4" y1="350.5" x2="29.9" y2="350.5" stroke="#a3a3a3" stroke-width="1"/>
<line x1="28.4" y1="346.94" x2="29.9" y2="346.94" stroke="#a3a3a3" stroke-width="1"/>
<line x1="28.4" y1="343.39" x2="29.9" y2="343.39" stroke="#a3a3a3" stroke-width="1"/>
<line x1="28.4" y1="336.29" x2="29.9" y2="336.29" stroke="#a3a3a3" stroke-width="1"/>
<line x1="28.4" y1="332.74" x2="29.9" y2="332.74" stroke="#a3a3a3" stroke-width="1"/>
<line x1="28.4" y1="329.18" x2="29.9" y2="329.18" stroke="#a3a3a3" stroke-width="1"/>
<line x1="28.4" y1="325.63" x2="29.9" y2="325.63" stroke="#a3a3a3" stroke-width="1"/>
<line x1="28.4" y1="318.53" x2="29.9" y2="318.53" stroke="#a3a3a3" stroke-width="1"/>
<line x1="28.4" y1="314.98" x2="29.9" y2="314.98" stroke="#a3a3a3" stroke-width="1"/>
<line x1="28.4" y1="311.42" x2="29.9" y2="311.42" stroke="#a3a3a3" stroke-width="1"/>
<line x1="28.4" y1="307.87" x2="29.9" y2="307.87" stroke="#a3a3a3" stroke-width="1"/>
<line x1="28.4" y1="300.77" x2="29.9" y2="300.77" stroke="#a3a3a3" stroke-width="1"/>
<line x1="28.4" y1="297.22" x2="29.9" y2="297.22" stroke="#a3a3a3" stroke-width="1"/>
<line x1="28.4" y1="293.66" x2="29.9" y2="293.66" stroke="#a3a3a3" stroke-width="1"/>
<line x1="28.4" y1="290.11" x2="29.9" y2="290.11" stroke="#a3a3a3" stroke-width="1"/>
<line x1="28.4" y1="283.01" x2="29.9" y2="283.01" stroke="#a3a3a3" stroke-width="1"/>
<line x1="28.4" y1="279.46" x2="29.9" y2="279.46" stroke="#a3a3a3" stroke-width="1"/>
<line x1="28.4" y1="275.9" x2="29.9" y2="275.9" stroke="#a3a3a3" stroke-width="1"/>
<line x1="28.4" y1="272.35" x2="29.9" y2="272.35" stroke="#a3a3a3" stroke-width="1"/>
<line x1="28.4" y1="265.25" x2="29.9" y2="265.25" stroke="#a3a3a3" stroke-width="1"/>
<line x1="28.4" y1="261.7" x2="29.9" y2="261.7" stroke="#a3a3a3" stroke-width="1"/>
<line x1="28.4" y1="258.14" x2="29.9" y2="258.14" stroke="#a3a3a3" stroke-width="1"/>
<line x1="28.4" y1="254.59" x2="29.9" y2="254.59" stroke="#a3a3a3" stroke-width="1"/>
<line x1="28.4" y1="247.49" x2="29.9" y2="247.49" stroke="#a3a3a3" stroke-width="1"/>
<line x1="28.4" y1="243.94" x2="29.9" y2="243.94" stroke="#a3a3a3" stroke-width="1"/>
<line x1="28.4" y1="240.38" x2="29.9" y2="240.38" stroke="#a3a3a3" stroke-width="1"/>
<line x1="28.4" y1="236.83" x2="29.9" y2="236.83" stroke="#a3a3a3" stroke-width="1"/>
<line x1="28.4" y1="229.73" x2="29.9" y2="229.73" stroke="#a3a3a3" stroke-width="1"/>
<line x1="28.4" y1="226.18" x2="29.9" y2="226.18" stroke="#a3a3a3" stroke-width="1"/>
<line x1="28.4" y1="222.62" x2="29.9" y2="222.62" stroke="#a3a3a3" stroke-width="1"/>
<line x1="28.4" y1="219.07" x2="29.9" y2="219.07" stroke="#a3a3a3" stroke-width="1"/>
<text transform="translate(88.5,379.5) scale(0.9709,1)" font-size="8.24" text-anchor="start" fill="#141414" stroke="#141414" stroke-width="0.25">tumor load (% BCR−ABL ratio)</text>
<text transform="translate(7.5,286.1) rotate(-90)" font-size="8" text-anchor="middle" fill="#141414" stroke="#141414" stroke-width="0.25">immune cell number</text>
<text transform="translate(0.3,208.6) scale(0.96,1)" font-size="17.2" fill="#000" stroke="#000" stroke-width="0.3">D</text>
<path d="M33.1,224.4 L33.84,224.4 L34.57,224.4 L35.31,224.4 L36.05,224.4 L36.78,224.4 L37.52,224.4 L38.26,224.4 L39,224.4 L39.73,224.4 L40.47,224.4 L41.21,224.4 L41.94,224.4 L42.68,224.4 L43.42,224.4 L44.16,224.4 L44.89,224.4 L45.63,224.4 L46.37,224.4 L47.1,224.4 L47.84,224.4 L48.58,224.4 L49.31,224.4 L50.05,224.4 L50.79,224.4 L51.53,224.4 L52.26,224.4 L53,224.4 L53.74,224.4 L54.47,224.4 L55.21,224.4 L55.95,224.4 L56.68,224.4 L57.42,224.4 L58.16,224.4 L58.89,224.4 L59.63,224.4 L60.37,224.4 L61.11,224.4 L61.84,224.4 L62.58,224.4 L63.32,224.4 L64.05,224.4 L64.79,224.4 L65.53,224.4 L66.27,224.4 L67,224.4 L67.74,224.4 L68.48,224.4 L69.21,224.4 L69.95,224.4 L70.69,224.4 L71.42,224.4 L72.16,224.4 L72.9,224.4 L73.64,224.4 L74.37,224.4 L75.11,224.4 L75.85,224.4 L76.58,224.4 L77.32,224.4 L78.06,224.4 L78.79,224.4 L79.53,224.4 L80.27,224.4 L81,224.4 L81.74,224.4 L82.48,224.4 L83.22,224.4 L83.95,224.4 L84.69,224.4 L85.43,224.4 L86.16,224.4 L86.9,224.4 L87.64,224.4 L88.38,224.4 L89.11,224.4 L89.85,224.4 L90.59,224.4 L91.32,224.4 L92.06,224.4 L92.8,224.4 L93.53,224.4 L94.27,224.4 L95.01,224.4 L95.75,224.4 L96.48,224.4 L97.22,224.4 L97.96,224.4 L98.69,224.4 L99.43,224.4 L100.17,224.4 L100.9,224.4 L101.64,224.4 L102.38,224.4 L103.11,224.4 L103.85,224.4 L104.59,224.4 L105.33,224.4 L106.06,224.41 L106.8,224.41 L107.54,224.41 L108.27,224.41 L109.01,224.41 L109.75,224.41 L110.48,224.41 L111.22,224.41 L111.96,224.41 L112.7,224.41 L113.43,224.41 L114.17,224.42 L114.91,224.42 L115.64,224.42 L116.38,224.42 L117.12,224.43 L117.85,224.43 L118.59,224.43 L119.33,224.43 L120.07,224.44 L120.8,224.44 L121.54,224.45 L122.28,224.45 L123.01,224.46 L123.75,224.47 L124.49,224.47 L125.22,224.48 L125.96,224.49 L126.7,224.5 L127.44,224.51 L128.17,224.52 L128.91,224.54 L129.65,224.55 L130.38,224.57 L131.12,224.59 L131.86,224.61 L132.59,224.63 L133.33,224.66 L134.07,224.69 L134.81,224.72 L135.54,224.76 L136.28,224.8 L137.02,224.84 L137.75,224.89 L138.49,224.95 L139.23,225.01 L139.97,225.08 L140.7,225.15 L141.44,225.24 L142.18,225.33 L142.91,225.43 L143.65,225.55 L144.39,225.67 L145.12,225.81 L145.86,225.97 L146.6,226.14 L147.34,226.33 L148.07,226.55 L148.81,226.78 L149.55,227.04 L150.28,227.33 L151.02,227.64 L151.76,227.99 L152.49,228.38 L153.23,228.8 L153.97,229.27 L154.7,229.78 L155.44,230.34 L156.18,230.96 L156.92,231.64 L157.65,232.38 L158.39,233.18 L159.13,234.06 L159.86,235.01 L160.6,236.05 L161.34,237.16 L162.07,238.37 L162.81,239.66 L163.55,241.05 L164.29,242.53 L165.02,244.1 L165.76,245.77 L166.5,247.54 L167.23,249.39 L167.97,251.33 L168.71,253.35 L169.44,255.44 L170.18,257.6 L170.92,259.81 L171.66,262.07 L172.39,264.36 L173.13,266.67 L173.87,268.98 L174.6,271.29 L175.34,273.59 L176.08,275.85 L176.81,278.06 L177.55,280.22 L178.29,282.32 L179.03,284.35 L179.76,286.29 L180.5,288.15 L181.24,289.92 L181.97,291.6 L182.71,293.18 L183.45,294.67 L184.19,296.06 L184.92,297.36 L185.66,298.58 L186.4,299.7 L187.13,300.74 L187.87,301.7 L188.61,302.58 L189.34,303.39 L190.08,304.13 L190.82,304.81 L191.56,305.44 L192.29,306 L193.03,306.52 L193.77,306.99 L194.5,307.42 L195.24,307.81 L195.98,308.16 L196.71,308.48 L197.45,308.76 L198.19,309.03 L198.93,309.26 L199.66,309.48 L200.4,309.67 L201.14,309.84 L201.87,310 L202.61,310.14 L203.35,310.27 L204.08,310.38 L204.82,310.49 L205.56,310.58 L206.3,310.67 L207.03,310.74 L207.77,310.81 L208.51,310.87 L209.24,310.93 L209.98,310.98 L210.72,311.02 L211.45,311.06 L212.19,311.1 L212.93,311.13 L213.66,311.16 L214.4,311.19 L215.14,311.21 L215.88,311.23 L216.61,311.25 L217.35,311.27 L218.09,311.29 L218.82,311.3 L219.56,311.31 L220.3,311.32 L221.03,311.33 L221.77,311.34 L222.51,311.35 L223.25,311.36 L223.98,311.36 L224.72,311.37 L225.46,311.38 L226.19,311.38 L226.93,311.39 L227.67,311.39 L228.41,311.39 L229.14,311.4 L229.88,311.4 L230.62,311.4 L231.35,311.4 L232.09,311.41 L232.83,311.41 L233.56,311.41 L234.3,311.41 L235.04,311.41 L235.78,311.41 L236.51,311.41 L237.25,311.42 L237.99,311.42 L238.72,311.42 L239.46,311.42 L240.2,311.42 L240.93,311.42 L241.67,311.42 L242.41,311.42 L243.15,311.42 L243.88,311.42 L244.62,311.42 L245.36,311.42 L246.09,311.42 L246.83,311.42 L247.57,311.42 L248.3,311.42 L249.04,311.42 L249.78,311.42 L250.51,311.42 L251.25,311.42 L251.99,311.42 L252.73,311.42 L253.46,311.42 L254.2,311.42" fill="none" stroke="#33299a" stroke-width="1.45" stroke-linejoin="round" stroke-linecap="butt"/>
<circle cx="33" cy="222.1" r="2.6" fill="#000"/>
<circle cx="148.2" cy="230.6" r="2.6" fill="#000"/>
<circle cx="179.9" cy="275.5" r="2.6" fill="#000"/>
<circle cx="208.8" cy="299.6" r="2.6" fill="#000"/>
<circle cx="210.1" cy="330.6" r="2.6" fill="#000"/>
<circle cx="238" cy="317.6" r="2.6" fill="#000"/>
<line x1="189.4" y1="224.05" x2="199.9" y2="224.05" stroke="#33299a" stroke-width="1.3"/>
<text transform="translate(204.9,228) scale(0.9709,1)" font-size="8.24" text-anchor="start" fill="#141414" stroke="#141414" stroke-width="0.25">fit E<tspan dy="2.2" font-size="70%">S</tspan><tspan dy="-2.2">(T)</tspan></text>
<circle cx="191.9" cy="242" r="1.9" fill="#000"/>
<text transform="translate(198.2,244.5) scale(0.9709,1)" font-size="8.24" text-anchor="start" fill="#141414" stroke="#141414" stroke-width="0.25">data (patient 3)</text>
<text transform="translate(198.2,255.8) scale(0.9709,1)" font-size="8.24" text-anchor="start" fill="#141414" stroke="#141414" stroke-width="0.25">NK cell number</text>
<rect x="296.4" y="214.2" width="229.9" height="143" fill="none" stroke="#a3a3a3" stroke-width="1"/>
<line x1="305.42" y1="357.2" x2="305.42" y2="354.7" stroke="#a3a3a3" stroke-width="1"/>
<text transform="translate(305.42,366.8) scale(0.8696,1)" font-size="8.85" text-anchor="middle" fill="#141414" stroke="#141414" stroke-width="0.25">0.0001</text>
<line x1="341.59" y1="357.2" x2="341.59" y2="354.7" stroke="#a3a3a3" stroke-width="1"/>
<text transform="translate(341.59,366.8) scale(0.8696,1)" font-size="8.85" text-anchor="middle" fill="#141414" stroke="#141414" stroke-width="0.25">0.001</text>
<line x1="377.76" y1="357.2" x2="377.76" y2="354.7" stroke="#a3a3a3" stroke-width="1"/>
<text transform="translate(377.76,366.8) scale(0.8696,1)" font-size="8.85" text-anchor="middle" fill="#141414" stroke="#141414" stroke-width="0.25">0.01</text>
<line x1="413.93" y1="357.2" x2="413.93" y2="354.7" stroke="#a3a3a3" stroke-width="1"/>
<text transform="translate(413.93,366.8) scale(0.8696,1)" font-size="8.85" text-anchor="middle" fill="#141414" stroke="#141414" stroke-width="0.25">0.1</text>
<line x1="450.1" y1="357.2" x2="450.1" y2="354.7" stroke="#a3a3a3" stroke-width="1"/>
<text transform="translate(450.1,366.8) scale(0.8696,1)" font-size="8.85" text-anchor="middle" fill="#141414" stroke="#141414" stroke-width="0.25">1</text>
<line x1="486.27" y1="357.2" x2="486.27" y2="354.7" stroke="#a3a3a3" stroke-width="1"/>
<text transform="translate(486.27,366.8) scale(0.8696,1)" font-size="8.85" text-anchor="middle" fill="#141414" stroke="#141414" stroke-width="0.25">10</text>
<line x1="522.44" y1="357.2" x2="522.44" y2="354.7" stroke="#a3a3a3" stroke-width="1"/>
<text transform="translate(522.44,366.8) scale(0.8696,1)" font-size="8.85" text-anchor="middle" fill="#141414" stroke="#141414" stroke-width="0.25">100</text>
<line x1="296.4" y1="218.8" x2="298.9" y2="218.8" stroke="#a3a3a3" stroke-width="1"/>
<text transform="translate(294.2,222) scale(0.8696,1)" font-size="8.85" text-anchor="end" fill="#141414" stroke="#141414" stroke-width="0.25">1</text>
<line x1="296.4" y1="242.47" x2="298.9" y2="242.47" stroke="#a3a3a3" stroke-width="1"/>
<text transform="translate(294.2,245.67) scale(0.8696,1)" font-size="8.85" text-anchor="end" fill="#141414" stroke="#141414" stroke-width="0.25">0.8</text>
<line x1="296.4" y1="267.05" x2="298.9" y2="267.05" stroke="#a3a3a3" stroke-width="1"/>
<text transform="translate(294.2,270.25) scale(0.8696,1)" font-size="8.85" text-anchor="end" fill="#141414" stroke="#141414" stroke-width="0.25">0.6</text>
<line x1="296.4" y1="292.93" x2="298.9" y2="292.93" stroke="#a3a3a3" stroke-width="1"/>
<text transform="translate(294.2,296.13) scale(0.8696,1)" font-size="8.85" text-anchor="end" fill="#141414" stroke="#141414" stroke-width="0.25">0.4</text>
<line x1="296.4" y1="320.92" x2="298.9" y2="320.92" stroke="#a3a3a3" stroke-width="1"/>
<text transform="translate(294.2,324.12) scale(0.8696,1)" font-size="8.85" text-anchor="end" fill="#141414" stroke="#141414" stroke-width="0.25">0.2</text>
<line x1="296.4" y1="355.8" x2="298.9" y2="355.8" stroke="#a3a3a3" stroke-width="1"/>
<text transform="translate(294.2,359) scale(0.8696,1)" font-size="8.85" text-anchor="end" fill="#141414" stroke="#141414" stroke-width="0.25">0</text>
<text transform="translate(356.8,379) scale(0.9709,1)" font-size="8.24" text-anchor="start" fill="#141414" stroke="#141414" stroke-width="0.25">tumor load (% BCR−ABL ratio)</text>
<text transform="translate(277.3,286.1) rotate(-90)" font-size="8" text-anchor="middle" fill="#141414" stroke="#141414" stroke-width="0.25">immune cell parameter (normalized)</text>
<text transform="translate(275,208.7) scale(0.82,1)" font-size="17.2" fill="#000" stroke="#000" stroke-width="0.3">E</text>
<path d="M305.42,353.32 L306.14,353.22 L306.87,353.11 L307.59,353 L308.31,352.89 L309.04,352.77 L309.76,352.64 L310.48,352.51 L311.21,352.37 L311.93,352.23 L312.65,352.08 L313.38,351.93 L314.1,351.77 L314.82,351.6 L315.55,351.43 L316.27,351.25 L316.99,351.06 L317.72,350.87 L318.44,350.67 L319.16,350.46 L319.89,350.24 L320.61,350.01 L321.33,349.77 L322.06,349.53 L322.78,349.27 L323.5,349 L324.23,348.73 L324.95,348.44 L325.68,348.14 L326.4,347.83 L327.12,347.51 L327.85,347.18 L328.57,346.83 L329.29,346.47 L330.02,346.09 L330.74,345.71 L331.46,345.3 L332.19,344.89 L332.91,344.45 L333.63,344 L334.36,343.54 L335.08,343.05 L335.8,342.55 L336.53,342.03 L337.25,341.5 L337.97,340.94 L338.7,340.36 L339.42,339.77 L340.14,339.15 L340.87,338.51 L341.59,337.85 L342.31,337.17 L343.04,336.47 L343.76,335.74 L344.48,334.99 L345.21,334.22 L345.93,333.42 L346.65,332.6 L347.38,331.75 L348.1,330.87 L348.82,329.98 L349.55,329.05 L350.27,328.1 L350.99,327.12 L351.72,326.12 L352.44,325.08 L353.16,324.02 L353.89,322.94 L354.61,321.83 L355.33,320.69 L356.06,319.52 L356.78,318.33 L357.5,317.11 L358.23,315.87 L358.95,314.6 L359.68,313.31 L360.4,311.99 L361.12,310.65 L361.85,309.28 L362.57,307.9 L363.29,306.49 L364.02,305.06 L364.74,303.62 L365.46,302.15 L366.19,300.67 L366.91,299.17 L367.63,297.66 L368.36,296.14 L369.08,294.6 L369.8,293.06 L370.53,291.5 L371.25,289.94 L371.97,288.38 L372.7,286.81 L373.42,285.24 L374.14,283.66 L374.87,282.1 L375.59,280.53 L376.31,278.97 L377.04,277.41 L377.76,275.86 L378.48,274.33 L379.21,272.8 L379.93,271.29 L380.65,269.79 L381.38,268.31 L382.1,266.84 L382.82,265.4 L383.55,263.97 L384.27,262.56 L384.99,261.18 L385.72,259.82 L386.44,258.48 L387.16,257.17 L387.89,255.88 L388.61,254.62 L389.33,253.39 L390.06,252.18 L390.78,251 L391.5,249.85 L392.23,248.73 L392.95,247.64 L393.67,246.57 L394.4,245.53 L395.12,244.53 L395.85,243.55 L396.57,242.6 L397.29,241.68 L398.02,240.78 L398.74,239.92 L399.46,239.08 L400.19,238.27 L400.91,237.49 L401.63,236.73 L402.36,236 L403.08,235.29 L403.8,234.61 L404.53,233.95 L405.25,233.32 L405.97,232.71 L406.7,232.12 L407.42,231.56 L408.14,231.01 L408.87,230.49 L409.59,229.99 L410.31,229.5 L411.04,229.04 L411.76,228.59 L412.48,228.16 L413.21,227.75 L413.93,227.36 L414.65,226.98 L415.38,226.62 L416.1,226.27 L416.82,225.94 L417.55,225.62 L418.27,225.32 L418.99,225.02 L419.72,224.74 L420.44,224.48 L421.16,224.22 L421.89,223.97 L422.61,223.74 L423.33,223.51 L424.06,223.3 L424.78,223.09 L425.5,222.9 L426.23,222.71 L426.95,222.53 L427.67,222.36 L428.4,222.2 L429.12,222.04 L429.84,221.89 L430.57,221.75 L431.29,221.61 L432.02,221.48 L432.74,221.36 L433.46,221.24 L434.19,221.13 L434.91,221.02 L435.63,220.92 L436.36,220.82 L437.08,220.72 L437.8,220.63 L438.53,220.55 L439.25,220.47 L439.97,220.39 L440.7,220.32 L441.42,220.25 L442.14,220.18 L442.87,220.11 L443.59,220.05 L444.31,219.99 L445.04,219.94 L445.76,219.88 L446.48,219.83 L447.21,219.79 L447.93,219.74 L448.65,219.7 L449.38,219.65 L450.1,219.61 L450.82,219.58 L451.55,219.54 L452.27,219.5 L452.99,219.47 L453.72,219.44 L454.44,219.41 L455.16,219.38 L455.89,219.35 L456.61,219.33 L457.33,219.3 L458.06,219.28 L458.78,219.26 L459.5,219.24 L460.23,219.21 L460.95,219.2 L461.67,219.18 L462.4,219.16 L463.12,219.14 L463.84,219.13 L464.57,219.11 L465.29,219.1 L466.01,219.08 L466.74,219.07 L467.46,219.06 L468.19,219.04 L468.91,219.03 L469.63,219.02 L470.36,219.01 L471.08,219 L471.8,218.99 L472.53,218.98 L473.25,218.97 L473.97,218.97 L474.7,218.96 L475.42,218.95 L476.14,218.94 L476.87,218.94 L477.59,218.93 L478.31,218.92 L479.04,218.92 L479.76,218.91 L480.48,218.91 L481.21,218.9 L481.93,218.9 L482.65,218.89 L483.38,218.89 L484.1,218.88 L484.82,218.88 L485.55,218.88 L486.27,218.87 L486.99,218.87 L487.72,218.87 L488.44,218.86 L489.16,218.86 L489.89,218.86 L490.61,218.85 L491.33,218.85 L492.06,218.85 L492.78,218.85 L493.5,218.84 L494.23,218.84 L494.95,218.84 L495.67,218.84 L496.4,218.84 L497.12,218.84 L497.84,218.83 L498.57,218.83 L499.29,218.83 L500.01,218.83 L500.74,218.83 L501.46,218.83 L502.18,218.83 L502.91,218.82 L503.63,218.82 L504.36,218.82 L505.08,218.82 L505.8,218.82 L506.53,218.82 L507.25,218.82 L507.97,218.82 L508.7,218.82 L509.42,218.82 L510.14,218.81 L510.87,218.81 L511.59,218.81 L512.31,218.81 L513.04,218.81 L513.76,218.81 L514.48,218.81 L515.21,218.81 L515.93,218.81 L516.65,218.81 L517.38,218.81 L518.1,218.81 L518.82,218.81 L519.55,218.81 L520.27,218.81 L520.99,218.81 L521.72,218.81 L522.44,218.81" fill="none" stroke="#8482cc" stroke-width="1.1" stroke-linejoin="round" stroke-linecap="butt"/>
<path d="M305.42,218.82 L306.14,218.82 L306.87,218.82 L307.59,218.82 L308.31,218.82 L309.04,218.83 L309.76,218.83 L310.48,218.83 L311.21,218.83 L311.93,218.84 L312.65,218.84 L313.38,218.84 L314.1,218.85 L314.82,218.85 L315.55,218.86 L316.27,218.86 L316.99,218.87 L317.72,218.88 L318.44,218.88 L319.16,218.89 L319.89,218.9 L320.61,218.91 L321.33,218.92 L322.06,218.93 L322.78,218.95 L323.5,218.96 L324.23,218.98 L324.95,218.99 L325.68,219.01 L326.4,219.03 L327.12,219.06 L327.85,219.08 L328.57,219.11 L329.29,219.14 L330.02,219.17 L330.74,219.2 L331.46,219.24 L332.19,219.29 L332.91,219.33 L333.63,219.38 L334.36,219.44 L335.08,219.5 L335.8,219.57 L336.53,219.64 L337.25,219.72 L337.97,219.81 L338.7,219.91 L339.42,220.01 L340.14,220.13 L340.87,220.25 L341.59,220.39 L342.31,220.54 L343.04,220.71 L343.76,220.89 L344.48,221.09 L345.21,221.3 L345.93,221.54 L346.65,221.8 L347.38,222.08 L348.1,222.38 L348.82,222.72 L349.55,223.08 L350.27,223.48 L350.99,223.91 L351.72,224.38 L352.44,224.89 L353.16,225.45 L353.89,226.05 L354.61,226.7 L355.33,227.4 L356.06,228.17 L356.78,228.99 L357.5,229.88 L358.23,230.84 L358.95,231.88 L359.68,232.98 L360.4,234.17 L361.12,235.45 L361.85,236.81 L362.57,238.26 L363.29,239.8 L364.02,241.44 L364.74,243.17 L365.46,245 L366.19,246.92 L366.91,248.94 L367.63,251.06 L368.36,253.26 L369.08,255.56 L369.8,257.93 L370.53,260.38 L371.25,262.91 L371.97,265.49 L372.7,268.13 L373.42,270.81 L374.14,273.53 L374.87,276.27 L375.59,279.03 L376.31,281.79 L377.04,284.53 L377.76,287.26 L378.48,289.96 L379.21,292.62 L379.93,295.23 L380.65,297.78 L381.38,300.27 L382.1,302.68 L382.82,305.02 L383.55,307.27 L384.27,309.44 L384.99,311.52 L385.72,313.51 L386.44,315.4 L387.16,317.2 L387.89,318.91 L388.61,320.52 L389.33,322.05 L390.06,323.48 L390.78,324.84 L391.5,326.1 L392.23,327.29 L392.95,328.4 L393.67,329.43 L394.4,330.4 L395.12,331.3 L395.85,332.13 L396.57,332.91 L397.29,333.63 L398.02,334.29 L398.74,334.91 L399.46,335.48 L400.19,336 L400.91,336.49 L401.63,336.93 L402.36,337.34 L403.08,337.72 L403.8,338.07 L404.53,338.39 L405.25,338.68 L405.97,338.95 L406.7,339.2 L407.42,339.43 L408.14,339.64 L408.87,339.83 L409.59,340 L410.31,340.16 L411.04,340.31 L411.76,340.44 L412.48,340.56 L413.21,340.68 L413.93,340.78 L414.65,340.87 L415.38,340.96 L416.1,341.04 L416.82,341.11 L417.55,341.17 L418.27,341.23 L418.99,341.29 L419.72,341.34 L420.44,341.38 L421.16,341.42 L421.89,341.46 L422.61,341.5 L423.33,341.53 L424.06,341.56 L424.78,341.58 L425.5,341.61 L426.23,341.63 L426.95,341.65 L427.67,341.67 L428.4,341.68 L429.12,341.7 L429.84,341.71 L430.57,341.73 L431.29,341.74 L432.02,341.75 L432.74,341.76 L433.46,341.77 L434.19,341.77 L434.91,341.78 L435.63,341.79 L436.36,341.79 L437.08,341.8 L437.8,341.8 L438.53,341.81 L439.25,341.81 L439.97,341.82 L440.7,341.82 L441.42,341.82 L442.14,341.83 L442.87,341.83 L443.59,341.83 L444.31,341.83 L445.04,341.84 L445.76,341.84 L446.48,341.84 L447.21,341.84 L447.93,341.84 L448.65,341.84 L449.38,341.85 L450.1,341.85 L450.82,341.85 L451.55,341.85 L452.27,341.85 L452.99,341.85 L453.72,341.85 L454.44,341.85 L455.16,341.85 L455.89,341.85 L456.61,341.85 L457.33,341.85 L458.06,341.85 L458.78,341.85 L459.5,341.85 L460.23,341.85 L460.95,341.85 L461.67,341.85 L462.4,341.85 L463.12,341.86 L463.84,341.86 L464.57,341.86 L465.29,341.86 L466.01,341.86 L466.74,341.86 L467.46,341.86 L468.19,341.86 L468.91,341.86 L469.63,341.86 L470.36,341.86 L471.08,341.86 L471.8,341.86 L472.53,341.86 L473.25,341.86 L473.97,341.86 L474.7,341.86 L475.42,341.86 L476.14,341.86 L476.87,341.86 L477.59,341.86 L478.31,341.86 L479.04,341.86 L479.76,341.86 L480.48,341.86 L481.21,341.86 L481.93,341.86 L482.65,341.86 L483.38,341.86 L484.1,341.86 L484.82,341.86 L485.55,341.86 L486.27,341.86 L486.99,341.86 L487.72,341.86 L488.44,341.86 L489.16,341.86 L489.89,341.86 L490.61,341.86 L491.33,341.86 L492.06,341.86 L492.78,341.86 L493.5,341.86 L494.23,341.86 L494.95,341.86 L495.67,341.86 L496.4,341.86 L497.12,341.86 L497.84,341.86 L498.57,341.86 L499.29,341.86 L500.01,341.86 L500.74,341.86 L501.46,341.86 L502.18,341.86 L502.91,341.86 L503.63,341.86 L504.36,341.86 L505.08,341.86 L505.8,341.86 L506.53,341.86 L507.25,341.86 L507.97,341.86 L508.7,341.86 L509.42,341.86 L510.14,341.86 L510.87,341.86 L511.59,341.86 L512.31,341.86 L513.04,341.86 L513.76,341.86 L514.48,341.86 L515.21,341.86 L515.93,341.86 L516.65,341.86 L517.38,341.86 L518.1,341.86 L518.82,341.86 L519.55,341.86 L520.27,341.86 L520.99,341.86 L521.72,341.86 L522.44,341.86" fill="none" stroke="#cfdc8e" stroke-width="1.1" stroke-linejoin="round" stroke-linecap="butt"/>
<path d="M305.42,218.8 L306.14,218.8 L306.87,218.8 L307.59,218.8 L308.31,218.8 L309.04,218.8 L309.76,218.8 L310.48,218.8 L311.21,218.8 L311.93,218.8 L312.65,218.8 L313.38,218.8 L314.1,218.8 L314.82,218.8 L315.55,218.8 L316.27,218.8 L316.99,218.8 L317.72,218.8 L318.44,218.8 L319.16,218.8 L319.89,218.8 L320.61,218.8 L321.33,218.8 L322.06,218.8 L322.78,218.8 L323.5,218.8 L324.23,218.8 L324.95,218.8 L325.68,218.8 L326.4,218.8 L327.12,218.8 L327.85,218.8 L328.57,218.8 L329.29,218.8 L330.02,218.8 L330.74,218.8 L331.46,218.8 L332.19,218.8 L332.91,218.8 L333.63,218.8 L334.36,218.8 L335.08,218.8 L335.8,218.8 L336.53,218.8 L337.25,218.8 L337.97,218.8 L338.7,218.8 L339.42,218.8 L340.14,218.8 L340.87,218.8 L341.59,218.8 L342.31,218.8 L343.04,218.8 L343.76,218.8 L344.48,218.8 L345.21,218.8 L345.93,218.8 L346.65,218.8 L347.38,218.8 L348.1,218.8 L348.82,218.8 L349.55,218.8 L350.27,218.8 L350.99,218.8 L351.72,218.8 L352.44,218.8 L353.16,218.8 L353.89,218.8 L354.61,218.8 L355.33,218.8 L356.06,218.8 L356.78,218.8 L357.5,218.8 L358.23,218.8 L358.95,218.8 L359.68,218.8 L360.4,218.8 L361.12,218.8 L361.85,218.8 L362.57,218.8 L363.29,218.8 L364.02,218.8 L364.74,218.8 L365.46,218.8 L366.19,218.8 L366.91,218.8 L367.63,218.81 L368.36,218.81 L369.08,218.81 L369.8,218.81 L370.53,218.81 L371.25,218.81 L371.97,218.81 L372.7,218.81 L373.42,218.81 L374.14,218.81 L374.87,218.81 L375.59,218.81 L376.31,218.82 L377.04,218.82 L377.76,218.82 L378.48,218.82 L379.21,218.82 L379.93,218.83 L380.65,218.83 L381.38,218.83 L382.1,218.83 L382.82,218.84 L383.55,218.84 L384.27,218.85 L384.99,218.85 L385.72,218.86 L386.44,218.86 L387.16,218.87 L387.89,218.87 L388.61,218.88 L389.33,218.89 L390.06,218.9 L390.78,218.91 L391.5,218.92 L392.23,218.93 L392.95,218.94 L393.67,218.96 L394.4,218.97 L395.12,218.99 L395.85,219.01 L396.57,219.03 L397.29,219.05 L398.02,219.08 L398.74,219.1 L399.46,219.13 L400.19,219.17 L400.91,219.2 L401.63,219.24 L402.36,219.29 L403.08,219.34 L403.8,219.39 L404.53,219.45 L405.25,219.51 L405.97,219.58 L406.7,219.66 L407.42,219.74 L408.14,219.84 L408.87,219.94 L409.59,220.05 L410.31,220.17 L411.04,220.31 L411.76,220.45 L412.48,220.61 L413.21,220.79 L413.93,220.98 L414.65,221.19 L415.38,221.42 L416.1,221.68 L416.82,221.95 L417.55,222.25 L418.27,222.58 L418.99,222.93 L419.72,223.32 L420.44,223.75 L421.16,224.21 L421.89,224.7 L422.61,225.24 L423.33,225.83 L424.06,226.46 L424.78,227.15 L425.5,227.89 L426.23,228.68 L426.95,229.53 L427.67,230.45 L428.4,231.43 L429.12,232.47 L429.84,233.58 L430.57,234.76 L431.29,236.02 L432.02,237.34 L432.74,238.73 L433.46,240.19 L434.19,241.72 L434.91,243.32 L435.63,244.97 L436.36,246.68 L437.08,248.45 L437.8,250.26 L438.53,252.11 L439.25,254 L439.97,255.91 L440.7,257.84 L441.42,259.77 L442.14,261.71 L442.87,263.64 L443.59,265.55 L444.31,267.44 L445.04,269.29 L445.76,271.11 L446.48,272.88 L447.21,274.6 L447.93,276.26 L448.65,277.86 L449.38,279.4 L450.1,280.87 L450.82,282.27 L451.55,283.6 L452.27,284.86 L452.99,286.05 L453.72,287.18 L454.44,288.23 L455.16,289.22 L455.89,290.14 L456.61,291.01 L457.33,291.81 L458.06,292.56 L458.78,293.25 L459.5,293.89 L460.23,294.48 L460.95,295.03 L461.67,295.54 L462.4,296 L463.12,296.43 L463.84,296.83 L464.57,297.19 L465.29,297.52 L466.01,297.83 L466.74,298.11 L467.46,298.36 L468.19,298.6 L468.91,298.81 L469.63,299.01 L470.36,299.19 L471.08,299.35 L471.8,299.5 L472.53,299.64 L473.25,299.76 L473.97,299.88 L474.7,299.98 L475.42,300.08 L476.14,300.16 L476.87,300.24 L477.59,300.31 L478.31,300.38 L479.04,300.44 L479.76,300.49 L480.48,300.54 L481.21,300.58 L481.93,300.63 L482.65,300.66 L483.38,300.7 L484.1,300.73 L484.82,300.76 L485.55,300.78 L486.27,300.8 L486.99,300.83 L487.72,300.84 L488.44,300.86 L489.16,300.88 L489.89,300.89 L490.61,300.91 L491.33,300.92 L492.06,300.93 L492.78,300.94 L493.5,300.95 L494.23,300.96 L494.95,300.96 L495.67,300.97 L496.4,300.98 L497.12,300.98 L497.84,300.99 L498.57,300.99 L499.29,301 L500.01,301 L500.74,301 L501.46,301.01 L502.18,301.01 L502.91,301.01 L503.63,301.01 L504.36,301.02 L505.08,301.02 L505.8,301.02 L506.53,301.02 L507.25,301.02 L507.97,301.02 L508.7,301.03 L509.42,301.03 L510.14,301.03 L510.87,301.03 L511.59,301.03 L512.31,301.03 L513.04,301.03 L513.76,301.03 L514.48,301.03 L515.21,301.03 L515.93,301.03 L516.65,301.03 L517.38,301.03 L518.1,301.03 L518.82,301.03 L519.55,301.04 L520.27,301.04 L520.99,301.04 L521.72,301.04 L522.44,301.04" fill="none" stroke="#f084be" stroke-width="1.1" stroke-linejoin="round" stroke-linecap="butt"/>
<path d="M305.42,353.33 L306.14,353.22 L306.87,353.12 L307.59,353 L308.31,352.89 L309.04,352.77 L309.76,352.64 L310.48,352.51 L311.21,352.37 L311.93,352.23 L312.65,352.09 L313.38,351.93 L314.1,351.77 L314.82,351.61 L315.55,351.43 L316.27,351.25 L316.99,351.07 L317.72,350.87 L318.44,350.67 L319.16,350.46 L319.89,350.24 L320.61,350.01 L321.33,349.78 L322.06,349.53 L322.78,349.28 L323.5,349.01 L324.23,348.74 L324.95,348.45 L325.68,348.15 L326.4,347.85 L327.12,347.53 L327.85,347.19 L328.57,346.85 L329.29,346.49 L330.02,346.12 L330.74,345.74 L331.46,345.34 L332.19,344.92 L332.91,344.5 L333.63,344.05 L334.36,343.59 L335.08,343.12 L335.8,342.63 L336.53,342.12 L337.25,341.59 L337.97,341.05 L338.7,340.49 L339.42,339.91 L340.14,339.31 L340.87,338.7 L341.59,338.06 L342.31,337.41 L343.04,336.74 L343.76,336.05 L344.48,335.34 L345.21,334.61 L345.93,333.87 L346.65,333.1 L347.38,332.32 L348.1,331.53 L348.82,330.71 L349.55,329.89 L350.27,329.04 L350.99,328.19 L351.72,327.32 L352.44,326.45 L353.16,325.57 L353.89,324.68 L354.61,323.79 L355.33,322.89 L356.06,322 L356.78,321.12 L357.5,320.24 L358.23,319.38 L358.95,318.53 L359.68,317.71 L360.4,316.91 L361.12,316.13 L361.85,315.4 L362.57,314.7 L363.29,314.05 L364.02,313.45 L364.74,312.9 L365.46,312.41 L366.19,311.99 L366.91,311.63 L367.63,311.35 L368.36,311.15 L369.08,311.02 L369.8,310.98 L370.53,311.02 L371.25,311.15 L371.97,311.36 L372.7,311.65 L373.42,312.03 L374.14,312.49 L374.87,313.02 L375.59,313.62 L376.31,314.3 L377.04,315.03 L377.76,315.82 L378.48,316.65 L379.21,317.53 L379.93,318.44 L380.65,319.38 L381.38,320.34 L382.1,321.32 L382.82,322.3 L383.55,323.28 L384.27,324.26 L384.99,325.23 L385.72,326.18 L386.44,327.11 L387.16,328.02 L387.89,328.91 L388.61,329.76 L389.33,330.59 L390.06,331.38 L390.78,332.13 L391.5,332.85 L392.23,333.54 L392.95,334.19 L393.67,334.8 L394.4,335.38 L395.12,335.93 L395.85,336.44 L396.57,336.92 L397.29,337.36 L398.02,337.78 L398.74,338.17 L399.46,338.53 L400.19,338.86 L400.91,339.17 L401.63,339.46 L402.36,339.72 L403.08,339.96 L403.8,340.18 L404.53,340.39 L405.25,340.58 L405.97,340.75 L406.7,340.91 L407.42,341.06 L408.14,341.19 L408.87,341.31 L409.59,341.42 L410.31,341.53 L411.04,341.62 L411.76,341.71 L412.48,341.79 L413.21,341.87 L413.93,341.94 L414.65,342.01 L415.38,342.07 L416.1,342.14 L416.82,342.19 L417.55,342.25 L418.27,342.31 L418.99,342.37 L419.72,342.42 L420.44,342.48 L421.16,342.54 L421.89,342.6 L422.61,342.66 L423.33,342.73 L424.06,342.8 L424.78,342.87 L425.5,342.95 L426.23,343.03 L426.95,343.11 L427.67,343.21 L428.4,343.3 L429.12,343.41 L429.84,343.52 L430.57,343.63 L431.29,343.76 L432.02,343.89 L432.74,344.02 L433.46,344.17 L434.19,344.32 L434.91,344.48 L435.63,344.64 L436.36,344.81 L437.08,344.98 L437.8,345.16 L438.53,345.35 L439.25,345.53 L439.97,345.72 L440.7,345.91 L441.42,346.11 L442.14,346.3 L442.87,346.49 L443.59,346.68 L444.31,346.87 L445.04,347.06 L445.76,347.24 L446.48,347.41 L447.21,347.59 L447.93,347.75 L448.65,347.91 L449.38,348.07 L450.1,348.21 L450.82,348.35 L451.55,348.49 L452.27,348.61 L452.99,348.73 L453.72,348.85 L454.44,348.95 L455.16,349.05 L455.89,349.14 L456.61,349.23 L457.33,349.31 L458.06,349.38 L458.78,349.45 L459.5,349.52 L460.23,349.58 L460.95,349.63 L461.67,349.68 L462.4,349.73 L463.12,349.77 L463.84,349.81 L464.57,349.85 L465.29,349.88 L466.01,349.91 L466.74,349.94 L467.46,349.97 L468.19,349.99 L468.91,350.01 L469.63,350.03 L470.36,350.05 L471.08,350.06 L471.8,350.08 L472.53,350.09 L473.25,350.1 L473.97,350.12 L474.7,350.13 L475.42,350.13 L476.14,350.14 L476.87,350.15 L477.59,350.16 L478.31,350.16 L479.04,350.17 L479.76,350.18 L480.48,350.18 L481.21,350.18 L481.93,350.19 L482.65,350.19 L483.38,350.2 L484.1,350.2 L484.82,350.2 L485.55,350.2 L486.27,350.21 L486.99,350.21 L487.72,350.21 L488.44,350.21 L489.16,350.21 L489.89,350.21 L490.61,350.22 L491.33,350.22 L492.06,350.22 L492.78,350.22 L493.5,350.22 L494.23,350.22 L494.95,350.22 L495.67,350.22 L496.4,350.22 L497.12,350.22 L497.84,350.22 L498.57,350.22 L499.29,350.22 L500.01,350.22 L500.74,350.22 L501.46,350.22 L502.18,350.22 L502.91,350.23 L503.63,350.23 L504.36,350.23 L505.08,350.23 L505.8,350.23 L506.53,350.23 L507.25,350.23 L507.97,350.23 L508.7,350.23 L509.42,350.23 L510.14,350.23 L510.87,350.23 L511.59,350.23 L512.31,350.23 L513.04,350.23 L513.76,350.23 L514.48,350.23 L515.21,350.23 L515.93,350.23 L516.65,350.23 L517.38,350.23 L518.1,350.23 L518.82,350.23 L519.55,350.23 L520.27,350.23 L520.99,350.23 L521.72,350.23 L522.44,350.23" fill="none" stroke="#8c58b0" stroke-width="1.6" stroke-linejoin="round" stroke-linecap="butt"/>
<line x1="301.1" y1="234.45" x2="312.2" y2="234.45" stroke="#8482cc" stroke-width="1.1"/>
<text transform="translate(317,237.85) scale(0.9709,1)" font-size="7.31" text-anchor="start" fill="#141414" stroke="#141414" stroke-width="0.25">activity f(T)</text>
<line x1="301.1" y1="249.4" x2="312.2" y2="249.4" stroke="#cfdc8e" stroke-width="1.1"/>
<text transform="translate(317,252.8) scale(0.9709,1)" font-size="7.31" text-anchor="start" fill="#141414" stroke="#141414" stroke-width="0.25">function h(T)</text>
<line x1="301.1" y1="264.5" x2="312.2" y2="264.5" stroke="#f084be" stroke-width="1.1"/>
<text transform="translate(317,267.9) scale(0.9709,1)" font-size="7.31" text-anchor="start" fill="#141414" stroke="#141414" stroke-width="0.25">number <tspan font-style="italic">E</tspan><tspan dy="1.8" font-size="70%" font-style="italic">S</tspan><tspan dy="-1.8">(T)</tspan></text>
<line x1="301.1" y1="278.8" x2="312.2" y2="278.8" stroke="#8c58b0" stroke-width="1.6"/>
<text transform="translate(317,282.2) scale(0.9709,1)" font-size="7.31" text-anchor="start" fill="#141414" stroke="#141414" stroke-width="0.25">response r(T)</text>
<rect x="566.4" y="214.2" width="229.8" height="142.9" fill="none" stroke="#a3a3a3" stroke-width="1"/>
<line x1="575.1" y1="357.1" x2="575.1" y2="354.6" stroke="#a3a3a3" stroke-width="1"/>
<text transform="translate(575.1,366.8) scale(0.8696,1)" font-size="8.85" text-anchor="middle" fill="#141414" stroke="#141414" stroke-width="0.25">0.0001</text>
<line x1="611.3" y1="357.1" x2="611.3" y2="354.6" stroke="#a3a3a3" stroke-width="1"/>
<text transform="translate(611.3,366.8) scale(0.8696,1)" font-size="8.85" text-anchor="middle" fill="#141414" stroke="#141414" stroke-width="0.25">0.001</text>
<line x1="647.5" y1="357.1" x2="647.5" y2="354.6" stroke="#a3a3a3" stroke-width="1"/>
<text transform="translate(647.5,366.8) scale(0.8696,1)" font-size="8.85" text-anchor="middle" fill="#141414" stroke="#141414" stroke-width="0.25">0.01</text>
<line x1="683.7" y1="357.1" x2="683.7" y2="354.6" stroke="#a3a3a3" stroke-width="1"/>
<text transform="translate(683.7,366.8) scale(0.8696,1)" font-size="8.85" text-anchor="middle" fill="#141414" stroke="#141414" stroke-width="0.25">0.1</text>
<line x1="719.9" y1="357.1" x2="719.9" y2="354.6" stroke="#a3a3a3" stroke-width="1"/>
<text transform="translate(719.9,366.8) scale(0.8696,1)" font-size="8.85" text-anchor="middle" fill="#141414" stroke="#141414" stroke-width="0.25">1</text>
<line x1="756.1" y1="357.1" x2="756.1" y2="354.6" stroke="#a3a3a3" stroke-width="1"/>
<text transform="translate(756.1,366.8) scale(0.8696,1)" font-size="8.85" text-anchor="middle" fill="#141414" stroke="#141414" stroke-width="0.25">10</text>
<line x1="792.3" y1="357.1" x2="792.3" y2="354.6" stroke="#a3a3a3" stroke-width="1"/>
<text transform="translate(792.3,366.8) scale(0.8696,1)" font-size="8.85" text-anchor="middle" fill="#141414" stroke="#141414" stroke-width="0.25">100</text>
<line x1="566.4" y1="218.8" x2="568.9" y2="218.8" stroke="#a3a3a3" stroke-width="1"/>
<text transform="translate(564.2,222) scale(0.8696,1)" font-size="8.85" text-anchor="end" fill="#141414" stroke="#141414" stroke-width="0.25">1</text>
<line x1="566.4" y1="246.28" x2="568.9" y2="246.28" stroke="#a3a3a3" stroke-width="1"/>
<text transform="translate(564.2,249.48) scale(0.8696,1)" font-size="8.85" text-anchor="end" fill="#141414" stroke="#141414" stroke-width="0.25">0.8</text>
<line x1="566.4" y1="273.76" x2="568.9" y2="273.76" stroke="#a3a3a3" stroke-width="1"/>
<text transform="translate(564.2,276.96) scale(0.8696,1)" font-size="8.85" text-anchor="end" fill="#141414" stroke="#141414" stroke-width="0.25">0.6</text>
<line x1="566.4" y1="301.24" x2="568.9" y2="301.24" stroke="#a3a3a3" stroke-width="1"/>
<text transform="translate(564.2,304.44) scale(0.8696,1)" font-size="8.85" text-anchor="end" fill="#141414" stroke="#141414" stroke-width="0.25">0.4</text>
<line x1="566.4" y1="328.72" x2="568.9" y2="328.72" stroke="#a3a3a3" stroke-width="1"/>
<text transform="translate(564.2,331.92) scale(0.8696,1)" font-size="8.85" text-anchor="end" fill="#141414" stroke="#141414" stroke-width="0.25">0.2</text>
<line x1="566.4" y1="356.2" x2="568.9" y2="356.2" stroke="#a3a3a3" stroke-width="1"/>
<text transform="translate(564.2,359.4) scale(0.8696,1)" font-size="8.85" text-anchor="end" fill="#141414" stroke="#141414" stroke-width="0.25">0</text>
<text transform="translate(626.8,379) scale(0.9709,1)" font-size="8.24" text-anchor="start" fill="#141414" stroke="#141414" stroke-width="0.25">tumor load (% BCR−ABL ratio)</text>
<text transform="translate(547.4,285.5) rotate(-90)" font-size="8" text-anchor="middle" fill="#141414" stroke="#141414" stroke-width="0.25">immune response rate (normalized)</text>
<text transform="translate(547.5,208.7) scale(0.9,1)" font-size="17.2" fill="#000" stroke="#000" stroke-width="0.3">F</text>
<line x1="683.7" y1="214.2" x2="683.7" y2="357.1" stroke="#e4e4e4" stroke-width="0.8"/>
<text transform="translate(686.9,284.1) scale(0.9259,1)" font-size="9.50" text-anchor="start" fill="#141414" stroke="#141414" stroke-width="0.25">MR3</text>
<path d="M575.1,230.38 L575.82,231.07 L576.55,231.77 L577.27,232.49 L578,233.23 L578.72,233.98 L579.44,234.75 L580.17,235.53 L580.89,236.33 L581.62,237.15 L582.34,237.98 L583.06,238.84 L583.79,239.71 L584.51,240.6 L585.24,241.5 L585.96,242.43 L586.68,243.38 L587.41,244.34 L588.13,245.33 L588.86,246.33 L589.58,247.35 L590.3,248.4 L591.03,249.46 L591.75,250.55 L592.48,251.66 L593.2,252.79 L593.92,253.93 L594.65,255.11 L595.37,256.3 L596.1,257.52 L596.82,258.75 L597.54,260.01 L598.27,261.3 L598.99,262.6 L599.72,263.93 L600.44,265.28 L601.16,266.65 L601.89,268.05 L602.61,269.47 L603.34,270.91 L604.06,272.38 L604.78,273.86 L605.51,275.37 L606.23,276.9 L606.96,278.45 L607.68,280.02 L608.4,281.61 L609.13,283.21 L609.85,284.84 L610.58,286.48 L611.3,288.14 L612.02,289.82 L612.75,291.51 L613.47,293.21 L614.2,294.92 L614.92,296.64 L615.64,298.36 L616.37,300.09 L617.09,301.83 L617.82,303.57 L618.54,305.3 L619.26,307.03 L619.99,308.76 L620.71,310.48 L621.44,312.18 L622.16,313.87 L622.88,315.55 L623.61,317.21 L624.33,318.85 L625.06,320.46 L625.78,322.04 L626.5,323.6 L627.23,325.13 L627.95,326.62 L628.68,328.08 L629.4,329.5 L630.12,330.88 L630.85,332.22 L631.57,333.51 L632.3,334.77 L633.02,335.98 L633.74,337.15 L634.47,338.27 L635.19,339.34 L635.92,340.37 L636.64,341.35 L637.36,342.29 L638.09,343.19 L638.81,344.04 L639.54,344.84 L640.26,345.61 L640.98,346.33 L641.71,347.01 L642.43,347.66 L643.16,348.26 L643.88,348.83 L644.6,349.37 L645.33,349.87 L646.05,350.34 L646.78,350.78 L647.5,351.18 L648.22,351.57 L648.95,351.92 L649.67,352.25 L650.4,352.56 L651.12,352.85 L651.84,353.11 L652.57,353.36 L653.29,353.59 L654.02,353.8 L654.74,353.99 L655.46,354.18 L656.19,354.34 L656.91,354.5 L657.64,354.64 L658.36,354.77 L659.08,354.89 L659.81,355 L660.53,355.1 L661.26,355.19 L661.98,355.28 L662.7,355.36 L663.43,355.43 L664.15,355.5 L664.88,355.56 L665.6,355.61 L666.32,355.67 L667.05,355.71 L667.77,355.76 L668.5,355.8 L669.22,355.83 L669.94,355.86 L670.67,355.89 L671.39,355.92 L672.12,355.95 L672.84,355.97 L673.56,355.99 L674.29,356.01 L675.01,356.03 L675.74,356.04 L676.46,356.06 L677.18,356.07 L677.91,356.08 L678.63,356.09 L679.36,356.1 L680.08,356.11 L680.8,356.12 L681.53,356.13 L682.25,356.14 L682.98,356.14 L683.7,356.15 L684.42,356.15 L685.15,356.16 L685.87,356.16 L686.6,356.17 L687.32,356.17 L688.04,356.17 L688.77,356.18 L689.49,356.18 L690.22,356.18 L690.94,356.18 L691.66,356.18 L692.39,356.19 L693.11,356.19 L693.84,356.19 L694.56,356.19 L695.28,356.19 L696.01,356.19 L696.73,356.19 L697.46,356.19 L698.18,356.19 L698.9,356.19 L699.63,356.2 L700.35,356.2 L701.08,356.2 L701.8,356.2 L702.52,356.2 L703.25,356.2 L703.97,356.2 L704.7,356.2 L705.42,356.2 L706.14,356.2 L706.87,356.2 L707.59,356.2 L708.32,356.2 L709.04,356.2 L709.76,356.2 L710.49,356.2 L711.21,356.2 L711.94,356.2 L712.66,356.2 L713.38,356.2 L714.11,356.2 L714.83,356.2 L715.56,356.2 L716.28,356.2 L717,356.2 L717.73,356.2 L718.45,356.2 L719.18,356.2 L719.9,356.2 L720.62,356.2 L721.35,356.2 L722.07,356.2 L722.8,356.2 L723.52,356.2 L724.24,356.2 L724.97,356.2 L725.69,356.2 L726.42,356.2 L727.14,356.2 L727.86,356.2 L728.59,356.2 L729.31,356.2 L730.04,356.2 L730.76,356.2 L731.48,356.2 L732.21,356.2 L732.93,356.2 L733.66,356.2 L734.38,356.2 L735.1,356.2 L735.83,356.2 L736.55,356.2 L737.28,356.2 L738,356.2 L738.72,356.2 L739.45,356.2 L740.17,356.2 L740.9,356.2 L741.62,356.2 L742.34,356.2 L743.07,356.2 L743.79,356.2 L744.52,356.2 L745.24,356.2 L745.96,356.2 L746.69,356.2 L747.41,356.2 L748.14,356.2 L748.86,356.2 L749.58,356.2 L750.31,356.2 L751.03,356.2 L751.76,356.2 L752.48,356.2 L753.2,356.2 L753.93,356.2 L754.65,356.2 L755.38,356.2 L756.1,356.2 L756.82,356.2 L757.55,356.2 L758.27,356.2 L759,356.2 L759.72,356.2 L760.44,356.2 L761.17,356.2 L761.89,356.2 L762.62,356.2 L763.34,356.2 L764.06,356.2 L764.79,356.2 L765.51,356.2 L766.24,356.2 L766.96,356.2 L767.68,356.2 L768.41,356.2 L769.13,356.2 L769.86,356.2 L770.58,356.2 L771.3,356.2 L772.03,356.2 L772.75,356.2 L773.48,356.2 L774.2,356.2 L774.92,356.2 L775.65,356.2 L776.37,356.2 L777.1,356.2 L777.82,356.2 L778.54,356.2 L779.27,356.2 L779.99,356.2 L780.72,356.2 L781.44,356.2 L782.16,356.2 L782.89,356.2 L783.61,356.2 L784.34,356.2 L785.06,356.2 L785.78,356.2 L786.51,356.2 L787.23,356.2 L787.96,356.2 L788.68,356.2 L789.4,356.2 L790.13,356.2 L790.85,356.2 L791.58,356.2 L792.3,356.2" fill="none" stroke="#8482cc" stroke-width="1.1" stroke-linejoin="round" stroke-linecap="butt"/>
<path d="M575.1,219.84 L575.82,219.91 L576.55,219.97 L577.27,220.04 L578,220.11 L578.72,220.19 L579.44,220.27 L580.17,220.35 L580.89,220.44 L581.62,220.53 L582.34,220.63 L583.06,220.74 L583.79,220.85 L584.51,220.96 L585.24,221.09 L585.96,221.22 L586.68,221.35 L587.41,221.5 L588.13,221.65 L588.86,221.81 L589.58,221.98 L590.3,222.16 L591.03,222.34 L591.75,222.54 L592.48,222.75 L593.2,222.97 L593.92,223.2 L594.65,223.44 L595.37,223.7 L596.1,223.97 L596.82,224.25 L597.54,224.55 L598.27,224.87 L598.99,225.2 L599.72,225.55 L600.44,225.91 L601.16,226.29 L601.89,226.7 L602.61,227.12 L603.34,227.57 L604.06,228.03 L604.78,228.52 L605.51,229.04 L606.23,229.57 L606.96,230.14 L607.68,230.73 L608.4,231.35 L609.13,231.99 L609.85,232.67 L610.58,233.38 L611.3,234.12 L612.02,234.89 L612.75,235.7 L613.47,236.54 L614.2,237.42 L614.92,238.33 L615.64,239.28 L616.37,240.27 L617.09,241.3 L617.82,242.37 L618.54,243.49 L619.26,244.64 L619.99,245.84 L620.71,247.08 L621.44,248.36 L622.16,249.69 L622.88,251.07 L623.61,252.49 L624.33,253.95 L625.06,255.47 L625.78,257.03 L626.5,258.64 L627.23,260.29 L627.95,262 L628.68,263.76 L629.4,265.56 L630.12,267.42 L630.85,269.32 L631.57,271.28 L632.3,273.3 L633.02,275.36 L633.74,277.48 L634.47,279.66 L635.19,281.9 L635.92,284.19 L636.64,286.55 L637.36,288.96 L638.09,291.44 L638.81,293.98 L639.54,296.58 L640.26,299.24 L640.98,301.95 L641.71,304.71 L642.43,307.52 L643.16,310.35 L643.88,313.21 L644.6,316.07 L645.33,318.91 L646.05,321.72 L646.78,324.47 L647.5,327.14 L648.22,329.71 L648.95,332.16 L649.67,334.48 L650.4,336.64 L651.12,338.64 L651.84,340.48 L652.57,342.14 L653.29,343.65 L654.02,344.99 L654.74,346.18 L655.46,347.24 L656.19,348.17 L656.91,348.98 L657.64,349.7 L658.36,350.32 L659.08,350.86 L659.81,351.34 L660.53,351.75 L661.26,352.12 L661.98,352.44 L662.7,352.73 L663.43,352.98 L664.15,353.21 L664.88,353.41 L665.6,353.59 L666.32,353.76 L667.05,353.91 L667.77,354.05 L668.5,354.18 L669.22,354.29 L669.94,354.4 L670.67,354.5 L671.39,354.6 L672.12,354.68 L672.84,354.77 L673.56,354.84 L674.29,354.91 L675.01,354.98 L675.74,355.05 L676.46,355.11 L677.18,355.17 L677.91,355.22 L678.63,355.27 L679.36,355.32 L680.08,355.37 L680.8,355.41 L681.53,355.45 L682.25,355.49 L682.98,355.53 L683.7,355.56 L684.42,355.6 L685.15,355.63 L685.87,355.66 L686.6,355.69 L687.32,355.71 L688.04,355.74 L688.77,355.76 L689.49,355.79 L690.22,355.81 L690.94,355.83 L691.66,355.85 L692.39,355.87 L693.11,355.89 L693.84,355.9 L694.56,355.92 L695.28,355.93 L696.01,355.95 L696.73,355.96 L697.46,355.98 L698.18,355.99 L698.9,356 L699.63,356.01 L700.35,356.02 L701.08,356.03 L701.8,356.04 L702.52,356.05 L703.25,356.06 L703.97,356.07 L704.7,356.07 L705.42,356.08 L706.14,356.09 L706.87,356.09 L707.59,356.1 L708.32,356.11 L709.04,356.11 L709.76,356.12 L710.49,356.12 L711.21,356.13 L711.94,356.13 L712.66,356.14 L713.38,356.14 L714.11,356.14 L714.83,356.15 L715.56,356.15 L716.28,356.16 L717,356.16 L717.73,356.16 L718.45,356.16 L719.18,356.17 L719.9,356.17 L720.62,356.17 L721.35,356.17 L722.07,356.18 L722.8,356.18 L723.52,356.18 L724.24,356.18 L724.97,356.18 L725.69,356.18 L726.42,356.18 L727.14,356.19 L727.86,356.19 L728.59,356.19 L729.31,356.19 L730.04,356.19 L730.76,356.19 L731.48,356.19 L732.21,356.19 L732.93,356.19 L733.66,356.19 L734.38,356.19 L735.1,356.19 L735.83,356.19 L736.55,356.19 L737.28,356.19 L738,356.19 L738.72,356.19 L739.45,356.2 L740.17,356.2 L740.9,356.2 L741.62,356.2 L742.34,356.2 L743.07,356.2 L743.79,356.2 L744.52,356.2 L745.24,356.2 L745.96,356.2 L746.69,356.2 L747.41,356.2 L748.14,356.2 L748.86,356.2 L749.58,356.2 L750.31,356.2 L751.03,356.2 L751.76,356.2 L752.48,356.2 L753.2,356.2 L753.93,356.2 L754.65,356.2 L755.38,356.2 L756.1,356.2 L756.82,356.2 L757.55,356.2 L758.27,356.2 L759,356.2 L759.72,356.2 L760.44,356.2 L761.17,356.2 L761.89,356.2 L762.62,356.2 L763.34,356.2 L764.06,356.2 L764.79,356.2 L765.51,356.2 L766.24,356.2 L766.96,356.2 L767.68,356.2 L768.41,356.2 L769.13,356.2 L769.86,356.2 L770.58,356.2 L771.3,356.2 L772.03,356.2 L772.75,356.2 L773.48,356.2 L774.2,356.2 L774.92,356.2 L775.65,356.2 L776.37,356.2 L777.1,356.2 L777.82,356.2 L778.54,356.2 L779.27,356.2 L779.99,356.2 L780.72,356.2 L781.44,356.2 L782.16,356.2 L782.89,356.2 L783.61,356.2 L784.34,356.2 L785.06,356.2 L785.78,356.2 L786.51,356.2 L787.23,356.2 L787.96,356.2 L788.68,356.2 L789.4,356.2 L790.13,356.2 L790.85,356.2 L791.58,356.2 L792.3,356.2" fill="none" stroke="#cfdc8e" stroke-width="1.1" stroke-linejoin="round" stroke-linecap="butt"/>
<path d="M575.1,218.98 L575.82,218.98 L576.55,218.98 L577.27,218.99 L578,218.99 L578.72,219 L579.44,219 L580.17,219.01 L580.89,219.02 L581.62,219.02 L582.34,219.03 L583.06,219.04 L583.79,219.05 L584.51,219.06 L585.24,219.07 L585.96,219.09 L586.68,219.1 L587.41,219.12 L588.13,219.13 L588.86,219.15 L589.58,219.17 L590.3,219.19 L591.03,219.21 L591.75,219.24 L592.48,219.27 L593.2,219.3 L593.92,219.33 L594.65,219.37 L595.37,219.41 L596.1,219.45 L596.82,219.5 L597.54,219.56 L598.27,219.61 L598.99,219.68 L599.72,219.74 L600.44,219.82 L601.16,219.9 L601.89,219.99 L602.61,220.09 L603.34,220.2 L604.06,220.31 L604.78,220.44 L605.51,220.58 L606.23,220.73 L606.96,220.89 L607.68,221.07 L608.4,221.27 L609.13,221.48 L609.85,221.72 L610.58,221.97 L611.3,222.25 L612.02,222.55 L612.75,222.88 L613.47,223.23 L614.2,223.62 L614.92,224.04 L615.64,224.5 L616.37,224.99 L617.09,225.53 L617.82,226.12 L618.54,226.75 L619.26,227.43 L619.99,228.17 L620.71,228.97 L621.44,229.83 L622.16,230.76 L622.88,231.75 L623.61,232.83 L624.33,233.98 L625.06,235.21 L625.78,236.53 L626.5,237.94 L627.23,239.44 L627.95,241.03 L628.68,242.72 L629.4,244.52 L630.12,246.41 L630.85,248.4 L631.57,250.5 L632.3,252.69 L633.02,254.98 L633.74,257.36 L634.47,259.84 L635.19,262.4 L635.92,265.03 L636.64,267.74 L637.36,270.51 L638.09,273.34 L638.81,276.2 L639.54,279.1 L640.26,282.02 L640.98,284.95 L641.71,287.88 L642.43,290.8 L643.16,293.68 L643.88,296.54 L644.6,299.34 L645.33,302.09 L646.05,304.77 L646.78,307.38 L647.5,309.91 L648.22,312.36 L648.95,314.71 L649.67,316.96 L650.4,319.12 L651.12,321.18 L651.84,323.14 L652.57,325 L653.29,326.75 L654.02,328.42 L654.74,329.98 L655.46,331.45 L656.19,332.83 L656.91,334.12 L657.64,335.33 L658.36,336.46 L659.08,337.51 L659.81,338.5 L660.53,339.41 L661.26,340.26 L661.98,341.05 L662.7,341.78 L663.43,342.47 L664.15,343.1 L664.88,343.69 L665.6,344.23 L666.32,344.74 L667.05,345.21 L667.77,345.65 L668.5,346.06 L669.22,346.44 L669.94,346.8 L670.67,347.13 L671.39,347.44 L672.12,347.73 L672.84,348.01 L673.56,348.27 L674.29,348.52 L675.01,348.75 L675.74,348.98 L676.46,349.19 L677.18,349.4 L677.91,349.6 L678.63,349.79 L679.36,349.97 L680.08,350.16 L680.8,350.33 L681.53,350.51 L682.25,350.68 L682.98,350.84 L683.7,351.01 L684.42,351.17 L685.15,351.34 L685.87,351.5 L686.6,351.65 L687.32,351.81 L688.04,351.97 L688.77,352.12 L689.49,352.28 L690.22,352.43 L690.94,352.58 L691.66,352.72 L692.39,352.87 L693.11,353.01 L693.84,353.16 L694.56,353.3 L695.28,353.43 L696.01,353.57 L696.73,353.7 L697.46,353.82 L698.18,353.95 L698.9,354.07 L699.63,354.18 L700.35,354.3 L701.08,354.4 L701.8,354.51 L702.52,354.61 L703.25,354.71 L703.97,354.8 L704.7,354.89 L705.42,354.98 L706.14,355.06 L706.87,355.14 L707.59,355.21 L708.32,355.28 L709.04,355.35 L709.76,355.41 L710.49,355.47 L711.21,355.53 L711.94,355.58 L712.66,355.63 L713.38,355.68 L714.11,355.72 L714.83,355.76 L715.56,355.8 L716.28,355.84 L717,355.87 L717.73,355.9 L718.45,355.93 L719.18,355.96 L719.9,355.98 L720.62,356 L721.35,356.02 L722.07,356.04 L722.8,356.06 L723.52,356.07 L724.24,356.08 L724.97,356.1 L725.69,356.11 L726.42,356.12 L727.14,356.12 L727.86,356.13 L728.59,356.14 L729.31,356.14 L730.04,356.15 L730.76,356.15 L731.48,356.16 L732.21,356.16 L732.93,356.17 L733.66,356.17 L734.38,356.17 L735.1,356.17 L735.83,356.18 L736.55,356.18 L737.28,356.18 L738,356.18 L738.72,356.18 L739.45,356.19 L740.17,356.19 L740.9,356.19 L741.62,356.19 L742.34,356.19 L743.07,356.19 L743.79,356.19 L744.52,356.19 L745.24,356.19 L745.96,356.19 L746.69,356.19 L747.41,356.19 L748.14,356.19 L748.86,356.19 L749.58,356.2 L750.31,356.2 L751.03,356.2 L751.76,356.2 L752.48,356.2 L753.2,356.2 L753.93,356.2 L754.65,356.2 L755.38,356.2 L756.1,356.2 L756.82,356.2 L757.55,356.2 L758.27,356.2 L759,356.2 L759.72,356.2 L760.44,356.2 L761.17,356.2 L761.89,356.2 L762.62,356.2 L763.34,356.2 L764.06,356.2 L764.79,356.2 L765.51,356.2 L766.24,356.2 L766.96,356.2 L767.68,356.2 L768.41,356.2 L769.13,356.2 L769.86,356.2 L770.58,356.2 L771.3,356.2 L772.03,356.2 L772.75,356.2 L773.48,356.2 L774.2,356.2 L774.92,356.2 L775.65,356.2 L776.37,356.2 L777.1,356.2 L777.82,356.2 L778.54,356.2 L779.27,356.2 L779.99,356.2 L780.72,356.2 L781.44,356.2 L782.16,356.2 L782.89,356.2 L783.61,356.2 L784.34,356.2 L785.06,356.2 L785.78,356.2 L786.51,356.2 L787.23,356.2 L787.96,356.2 L788.68,356.2 L789.4,356.2 L790.13,356.2 L790.85,356.2 L791.58,356.2 L792.3,356.2" fill="none" stroke="#f084be" stroke-width="1.1" stroke-linejoin="round" stroke-linecap="butt"/>
<path d="M575.1,218.98 L575.82,218.98 L576.55,218.99 L577.27,218.99 L578,219 L578.72,219 L579.44,219.01 L580.17,219.01 L580.89,219.02 L581.62,219.03 L582.34,219.04 L583.06,219.05 L583.79,219.05 L584.51,219.07 L585.24,219.08 L585.96,219.09 L586.68,219.1 L587.41,219.12 L588.13,219.13 L588.86,219.15 L589.58,219.17 L590.3,219.19 L591.03,219.21 L591.75,219.24 L592.48,219.27 L593.2,219.3 L593.92,219.33 L594.65,219.36 L595.37,219.4 L596.1,219.44 L596.82,219.49 L597.54,219.54 L598.27,219.59 L598.99,219.65 L599.72,219.71 L600.44,219.78 L601.16,219.85 L601.89,219.94 L602.61,220.02 L603.34,220.12 L604.06,220.23 L604.78,220.34 L605.51,220.47 L606.23,220.6 L606.96,220.75 L607.68,220.91 L608.4,221.08 L609.13,221.27 L609.85,221.48 L610.58,221.7 L611.3,221.94 L612.02,222.2 L612.75,222.49 L613.47,222.8 L614.2,223.13 L614.92,223.5 L615.64,223.89 L616.37,224.32 L617.09,224.78 L617.82,225.28 L618.54,225.82 L619.26,226.4 L619.99,227.02 L620.71,227.7 L621.44,228.43 L622.16,229.21 L622.88,230.06 L623.61,230.96 L624.33,231.93 L625.06,232.98 L625.78,234.09 L626.5,235.28 L627.23,236.54 L627.95,237.89 L628.68,239.33 L629.4,240.85 L630.12,242.46 L630.85,244.16 L631.57,245.96 L632.3,247.84 L633.02,249.82 L633.74,251.89 L634.47,254.05 L635.19,256.3 L635.92,258.63 L636.64,261.04 L637.36,263.52 L638.09,266.08 L638.81,268.69 L639.54,271.36 L640.26,274.07 L640.98,276.82 L641.71,279.59 L642.43,282.38 L643.16,285.18 L643.88,287.98 L644.6,290.75 L645.33,293.51 L646.05,296.23 L646.78,298.91 L647.5,301.53 L648.22,304.1 L648.95,306.6 L649.67,309.02 L650.4,311.37 L651.12,313.63 L651.84,315.81 L652.57,317.9 L653.29,319.9 L654.02,321.8 L654.74,323.62 L655.46,325.34 L656.19,326.97 L656.91,328.51 L657.64,329.96 L658.36,331.33 L659.08,332.61 L659.81,333.82 L660.53,334.95 L661.26,336 L661.98,336.99 L662.7,337.91 L663.43,338.76 L664.15,339.56 L664.88,340.3 L665.6,340.99 L666.32,341.63 L667.05,342.22 L667.77,342.77 L668.5,343.28 L669.22,343.75 L669.94,344.18 L670.67,344.59 L671.39,344.96 L672.12,345.3 L672.84,345.62 L673.56,345.91 L674.29,346.18 L675.01,346.43 L675.74,346.67 L676.46,346.88 L677.18,347.08 L677.91,347.26 L678.63,347.43 L679.36,347.59 L680.08,347.73 L680.8,347.87 L681.53,348 L682.25,348.11 L682.98,348.22 L683.7,348.33 L684.42,348.43 L685.15,348.52 L685.87,348.61 L686.6,348.69 L687.32,348.77 L688.04,348.85 L688.77,348.93 L689.49,349.01 L690.22,349.08 L690.94,349.15 L691.66,349.23 L692.39,349.31 L693.11,349.38 L693.84,349.46 L694.56,349.55 L695.28,349.63 L696.01,349.72 L696.73,349.81 L697.46,349.91 L698.18,350.01 L698.9,350.12 L699.63,350.24 L700.35,350.36 L701.08,350.49 L701.8,350.62 L702.52,350.76 L703.25,350.91 L703.97,351.07 L704.7,351.23 L705.42,351.4 L706.14,351.57 L706.87,351.75 L707.59,351.93 L708.32,352.11 L709.04,352.3 L709.76,352.48 L710.49,352.67 L711.21,352.85 L711.94,353.04 L712.66,353.21 L713.38,353.39 L714.11,353.56 L714.83,353.72 L715.56,353.88 L716.28,354.03 L717,354.17 L717.73,354.3 L718.45,354.43 L719.18,354.55 L719.9,354.66 L720.62,354.76 L721.35,354.86 L722.07,354.95 L722.8,355.03 L723.52,355.11 L724.24,355.19 L724.97,355.25 L725.69,355.32 L726.42,355.38 L727.14,355.43 L727.86,355.48 L728.59,355.53 L729.31,355.58 L730.04,355.62 L730.76,355.66 L731.48,355.69 L732.21,355.73 L732.93,355.76 L733.66,355.79 L734.38,355.82 L735.1,355.84 L735.83,355.87 L736.55,355.89 L737.28,355.91 L738,355.93 L738.72,355.95 L739.45,355.97 L740.17,355.99 L740.9,356 L741.62,356.02 L742.34,356.03 L743.07,356.04 L743.79,356.05 L744.52,356.06 L745.24,356.07 L745.96,356.08 L746.69,356.09 L747.41,356.1 L748.14,356.11 L748.86,356.12 L749.58,356.12 L750.31,356.13 L751.03,356.13 L751.76,356.14 L752.48,356.14 L753.2,356.15 L753.93,356.15 L754.65,356.16 L755.38,356.16 L756.1,356.16 L756.82,356.16 L757.55,356.17 L758.27,356.17 L759,356.17 L759.72,356.17 L760.44,356.18 L761.17,356.18 L761.89,356.18 L762.62,356.18 L763.34,356.18 L764.06,356.18 L764.79,356.19 L765.51,356.19 L766.24,356.19 L766.96,356.19 L767.68,356.19 L768.41,356.19 L769.13,356.19 L769.86,356.19 L770.58,356.19 L771.3,356.19 L772.03,356.19 L772.75,356.19 L773.48,356.19 L774.2,356.2 L774.92,356.2 L775.65,356.2 L776.37,356.2 L777.1,356.2 L777.82,356.2 L778.54,356.2 L779.27,356.2 L779.99,356.2 L780.72,356.2 L781.44,356.2 L782.16,356.2 L782.89,356.2 L783.61,356.2 L784.34,356.2 L785.06,356.2 L785.78,356.2 L786.51,356.2 L787.23,356.2 L787.96,356.2 L788.68,356.2 L789.4,356.2 L790.13,356.2 L790.85,356.2 L791.58,356.2 L792.3,356.2" fill="none" stroke="#8c58b0" stroke-width="1.6" stroke-linejoin="round" stroke-linecap="butt"/>
<line x1="753.9" y1="227.2" x2="764.8" y2="227.2" stroke="#8482cc" stroke-width="1.1"/>
<text transform="translate(769.6,231.1) scale(0.9709,1)" font-size="7.31" text-anchor="start" fill="#141414" stroke="#141414" stroke-width="0.25">c<tspan dy="1.5" font-size="70%" font-style="italic">K</tspan><tspan dy="-1.5">=10</tspan><tspan dy="-2.8" font-size="70%">1</tspan></text>
<line x1="753.9" y1="242" x2="764.8" y2="242" stroke="#cfdc8e" stroke-width="1.1"/>
<text transform="translate(769.6,245.9) scale(0.9709,1)" font-size="7.31" text-anchor="start" fill="#141414" stroke="#141414" stroke-width="0.25">c<tspan dy="1.5" font-size="70%" font-style="italic">K</tspan><tspan dy="-1.5">=10</tspan><tspan dy="-2.8" font-size="70%">2</tspan></text>
<line x1="753.9" y1="256.6" x2="764.8" y2="256.6" stroke="#f084be" stroke-width="1.1"/>
<text transform="translate(769.6,260.5) scale(0.9709,1)" font-size="7.31" text-anchor="start" fill="#141414" stroke="#141414" stroke-width="0.25">c<tspan dy="1.5" font-size="70%" font-style="italic">K</tspan><tspan dy="-1.5">=10</tspan><tspan dy="-2.8" font-size="70%">3</tspan></text>
<line x1="753.9" y1="271.6" x2="764.8" y2="271.6" stroke="#8c58b0" stroke-width="1.6"/>
<text transform="translate(769.6,275.5) scale(0.9709,1)" font-size="7.31" text-anchor="start" fill="#141414" stroke="#141414" stroke-width="0.25">c<tspan dy="1.5" font-size="70%" font-style="italic">K</tspan><tspan dy="-1.5">=10</tspan><tspan dy="-2.8" font-size="70%">4</tspan></text>
</svg></body></html>
